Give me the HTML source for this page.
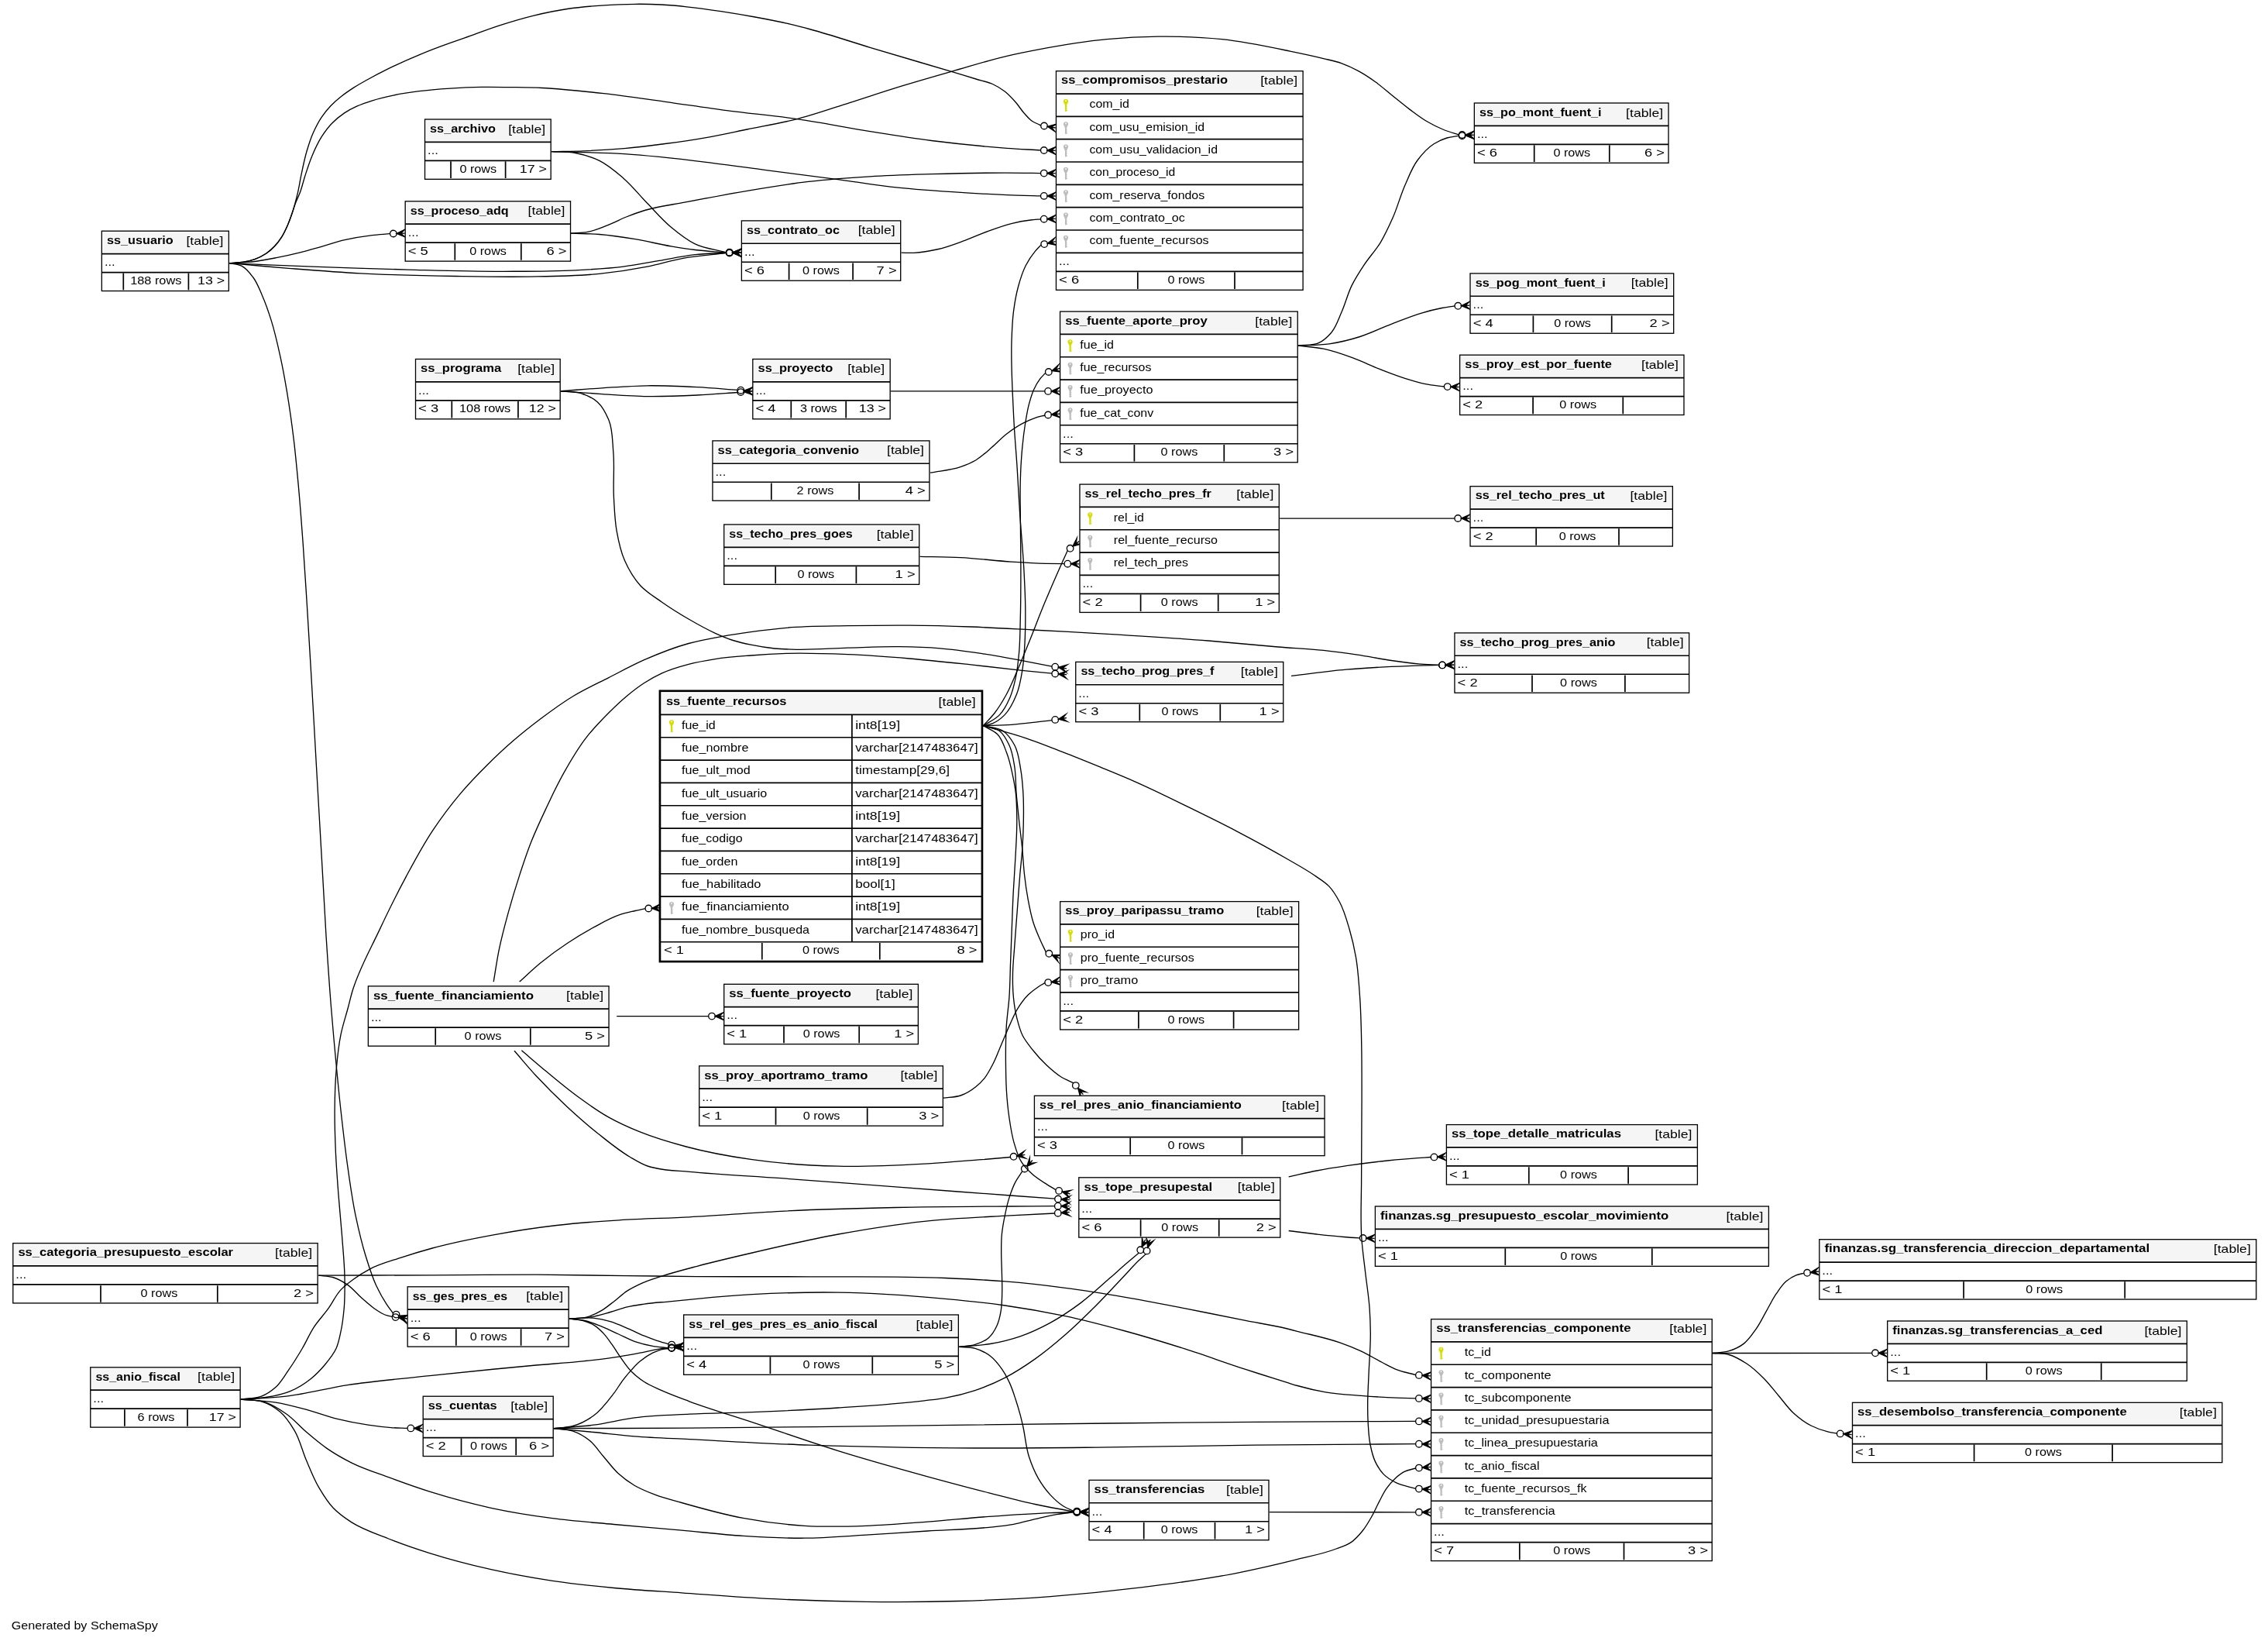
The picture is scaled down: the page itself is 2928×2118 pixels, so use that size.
<!DOCTYPE html>
<html><head><meta charset="utf-8"><title>ss_fuente_recursos</title>
<style>
html,body{margin:0;padding:0;background:#fff}
svg{display:block;will-change:transform}
text{font-family:"Liberation Sans",sans-serif;font-size:15px;fill:#000}
.b{font-weight:bold}
.s{fill:none;stroke:#000;stroke-width:1.7}
.e{fill:none;stroke:#000;stroke-width:1.33}
.m{fill:#000;stroke:#000;stroke-width:1.33;stroke-linejoin:miter;stroke-miterlimit:10}
.o{fill:none;stroke:#000;stroke-width:1.33}
</style></head><body>
<svg xmlns="http://www.w3.org/2000/svg" width="2928" height="2118" viewBox="0 0 2928 2118">
<rect width="2928" height="2118" fill="#fff"/>
<path d="M1352.2 163.2L1361.9 169.7L1357.4 164.1L1362.7 165.0L1357.4 164.1L1363.5 160.3Z" class="m"/><circle cx="1348.0" cy="162.5" r="4.27" class="o"/>
<path d="M296.5 339.7C302.4 339.2 308.4 339.2 314.3 338.2C319.2 337.4 324.2 336.3 328.9 334.6C334.0 332.8 339.0 330.3 343.5 327.3C347.5 324.6 351.2 321.3 354.5 317.8C358.1 314.0 361.2 309.7 364.0 305.3C366.9 300.7 369.1 295.7 371.3 290.7C373.5 285.7 375.4 280.5 377.1 275.3C378.5 271.2 379.6 267.1 380.8 262.9C382.1 258.1 383.4 253.2 384.5 248.3C386.1 241.5 387.1 234.5 388.5 227.7C390.8 216.5 393.0 205.2 396.3 194.2C398.6 186.5 401.0 178.7 404.3 171.4C407.4 164.5 410.9 157.6 415.1 151.3C418.6 146.1 422.7 141.1 427.1 136.5C431.2 132.2 435.8 128.2 440.5 124.5C445.6 120.4 451.1 116.7 456.6 113.1C462.2 109.5 468.1 106.3 474.0 103.0C482.8 98.1 491.8 93.4 500.9 88.9C514.1 82.4 527.5 76.4 541.1 70.8C554.3 65.3 567.8 60.2 581.3 55.4C587.5 53.2 593.8 51.1 600.0 48.9C614.7 43.7 629.3 37.9 644.1 33.1C658.7 28.4 673.3 23.9 688.2 20.3C702.7 16.8 717.5 13.7 732.3 11.5C746.9 9.3 761.7 8.1 776.4 7.1C791.1 6.1 805.8 5.4 820.5 5.3C831.5 5.2 842.5 5.4 853.5 6.0C864.6 6.6 875.6 7.6 886.6 8.8C901.3 10.3 916.0 12.4 930.7 14.6C945.4 16.8 960.1 19.3 974.8 22.0C989.5 24.7 1004.3 27.5 1018.9 30.9C1028.2 33.1 1037.4 35.5 1046.6 38.0C1072.4 44.9 1097.7 53.6 1123.3 61.3C1144.3 67.6 1165.3 73.8 1186.3 80.0C1200.3 84.1 1214.3 88.2 1228.3 92.4C1238.9 95.6 1249.4 98.8 1260.0 102.0C1267.1 104.2 1274.7 105.4 1281.4 108.5C1286.9 111.0 1292.4 114.3 1297.2 118.0C1302.5 122.1 1307.1 127.2 1311.5 132.3C1315.4 136.8 1318.5 142.1 1322.5 146.5C1325.5 149.8 1328.4 153.5 1332.0 156.0C1334.9 158.0 1338.3 159.3 1341.5 160.8C1342.2 161.2 1343.0 161.5 1343.8 161.8" class="e"/>
<path d="M1352.0 194.1L1362.6 199.2L1357.4 194.3L1362.7 194.4L1357.4 194.3L1362.8 189.6Z" class="m"/><circle cx="1347.8" cy="194.0" r="4.27" class="o"/>
<path d="M296.5 339.7C302.4 339.2 308.4 339.2 314.3 338.2C319.2 337.4 324.2 336.3 328.9 334.6C334.0 332.8 339.0 330.3 343.5 327.3C347.5 324.6 351.2 321.3 354.5 317.8C358.1 314.0 361.2 309.7 364.0 305.3C366.9 300.7 369.1 295.7 371.3 290.7C373.5 285.7 375.3 280.5 377.1 275.3C378.5 271.2 379.7 267.0 381.2 262.9C383.0 257.9 385.6 253.2 387.4 248.3C389.9 241.6 391.4 234.5 393.6 227.7C396.5 218.7 399.3 209.6 403.0 200.9C406.5 192.6 410.3 184.3 415.1 176.7C419.0 170.6 423.4 164.5 428.5 159.3C433.3 154.3 438.8 149.8 444.6 145.9C449.6 142.5 455.1 139.7 460.6 137.2C467.1 134.2 474.0 131.9 480.8 129.8C489.6 127.0 498.6 125.0 507.6 123.1C518.7 120.8 529.9 119.1 541.1 117.7C554.4 116.0 567.9 115.0 581.3 114.1C594.7 113.2 608.1 112.6 621.5 112.4C634.3 112.2 647.2 112.4 660.0 112.6C673.3 112.8 686.7 112.9 700.0 113.5C726.5 114.7 753.0 117.7 779.4 120.7C805.9 123.7 832.3 127.7 858.7 131.3C885.2 135.0 911.6 139.1 938.1 142.6C968.9 146.7 999.9 149.3 1030.7 153.8C1061.7 158.3 1092.4 164.7 1123.3 169.6C1149.7 173.8 1176.1 178.1 1202.6 181.5C1235.0 185.6 1267.5 188.9 1300.0 191.3C1314.5 192.4 1329.0 193.0 1343.5 193.9" class="e"/>
<path d="M512.0 301.4L522.8 305.9L517.4 301.2L522.7 301.1L517.4 301.2L522.6 296.3Z" class="m"/><circle cx="507.8" cy="301.5" r="4.27" class="o"/>
<path d="M296.5 339.7C307.3 339.0 318.2 338.8 328.9 337.5C338.7 336.3 348.4 334.3 358.1 332.4C367.9 330.4 377.7 328.2 387.4 325.8C397.2 323.4 406.9 320.5 416.6 317.8C426.1 315.1 435.4 311.9 445.0 309.7C456.7 307.0 468.7 305.0 480.6 303.6C488.2 302.7 495.9 302.3 503.5 301.6" class="e"/>
<path d="M945.9 326.1L956.5 331.0L951.3 326.1L956.6 326.2L951.3 326.1L956.7 321.4Z" class="m"/><circle cx="941.7" cy="326.0" r="4.27" class="o"/>
<path d="M296.5 339.7C332.2 341.2 367.8 342.8 403.5 344.1C444.6 345.6 485.8 347.1 526.9 348.1C568.1 349.1 609.2 350.4 650.4 350.3C681.3 350.2 712.2 350.4 743.0 348.8C763.6 347.7 784.3 346.7 804.7 344.1C820.2 342.1 835.6 339.0 851.0 336.4C866.4 333.8 881.8 330.5 897.3 328.7C910.6 327.2 924.0 326.9 937.4 326.0" class="e"/>
<path d="M945.9 326.5L956.7 331.0L951.3 326.3L956.6 326.2L951.3 326.3L956.5 321.4Z" class="m"/><circle cx="941.7" cy="326.6" r="4.27" class="o"/>
<path d="M296.5 339.7C321.9 341.9 347.2 344.3 372.6 346.3C403.4 348.7 434.3 351.2 465.2 352.8C506.3 355.0 547.5 355.8 588.6 356.5C619.5 357.0 650.3 357.6 681.2 357.1C712.1 356.6 743.1 356.6 773.8 353.4C794.5 351.2 815.2 348.1 835.6 344.1C851.1 341.0 866.3 336.1 881.9 333.3C900.2 330.0 918.9 328.9 937.4 326.7" class="e"/>
<path d="M515.5 1698.2L523.6 1706.6L520.4 1700.1L525.4 1702.1L520.4 1700.1L527.2 1697.6Z" class="m"/><circle cx="511.5" cy="1696.6" r="4.27" class="o"/>
<path d="M296.5 339.7C301.7 340.9 307.6 341.0 312.2 343.4C318.1 346.4 322.7 352.6 326.8 358.0C332.0 364.9 335.0 373.4 338.5 381.4C343.1 391.8 346.8 402.7 350.2 413.6C355.0 428.9 358.5 444.7 361.9 460.4C365.3 475.9 368.1 491.5 370.7 507.2C374.1 527.6 376.9 548.1 379.4 568.6C381.7 588.1 383.5 607.6 385.3 627.1C387.5 651.4 389.3 675.8 391.1 700.2C393.0 726.8 394.6 753.4 396.3 780.0C398.3 811.7 400.1 843.4 402.0 875.1C404.2 912.1 406.2 949.0 408.3 986.0C410.4 1023.0 412.6 1059.9 414.7 1096.9C416.8 1133.9 418.6 1170.9 421.0 1207.8C423.0 1238.5 425.0 1269.3 427.5 1300.0C429.3 1322.3 431.3 1344.7 433.4 1367.0C435.5 1389.3 437.6 1411.7 440.1 1434.0C442.6 1456.4 445.1 1478.8 448.2 1501.1C451.3 1523.5 454.3 1546.0 458.9 1568.1C462.7 1586.1 466.8 1604.1 472.3 1621.7C476.2 1634.4 480.1 1647.2 485.7 1659.2C489.6 1667.5 494.0 1675.7 499.1 1683.4C501.7 1687.4 504.7 1691.2 507.5 1695.1" class="e"/>
<path d="M1891.8 174.1L1902.4 179.1L1897.2 174.2L1902.5 174.3L1897.2 174.2L1902.6 169.5Z" class="m"/><circle cx="1887.6" cy="174.0" r="4.27" class="o"/>
<path d="M712.2 195.6C725.8 195.3 739.3 195.3 752.9 194.8C770.5 194.1 788.2 193.1 805.8 191.6C823.5 190.0 841.1 187.8 858.7 185.5C876.4 183.2 894.0 180.7 911.6 177.6C929.3 174.5 946.9 170.6 964.6 167.0C986.7 162.5 1008.9 158.8 1030.7 153.2C1053.0 147.4 1074.8 139.6 1096.8 132.6C1118.9 125.6 1140.8 118.2 1163.0 111.4C1184.9 104.7 1207.0 98.4 1229.1 92.1C1252.7 85.4 1276.1 77.8 1300.0 72.3C1313.6 69.2 1327.2 66.5 1340.9 63.9C1370.1 58.4 1399.5 53.5 1429.1 50.7C1451.0 48.6 1473.2 47.4 1495.2 47.2C1522.6 46.9 1550.1 47.8 1577.3 50.7C1606.9 53.8 1636.3 60.1 1665.5 66.1C1680.2 69.1 1695.0 72.2 1709.6 75.8C1717.0 77.6 1724.5 79.1 1731.6 81.6C1739.2 84.3 1746.6 87.8 1753.7 91.7C1761.3 95.8 1768.6 100.7 1775.7 105.8C1783.3 111.3 1790.4 117.6 1797.7 123.5C1805.1 129.4 1812.3 135.5 1819.8 141.1C1827.0 146.4 1834.1 152.0 1841.8 156.5C1848.9 160.7 1856.3 164.4 1863.9 167.5C1870.2 170.0 1876.8 171.8 1883.3 173.9" class="e"/>
<path d="M1352.0 252.9L1362.7 257.8L1357.4 253.0L1362.7 253.0L1357.4 253.0L1362.7 248.2Z" class="m"/><circle cx="1347.8" cy="252.9" r="4.27" class="o"/>
<path d="M712.2 195.6C743.4 196.6 774.7 196.7 805.8 198.7C841.2 201.0 876.4 205.1 911.6 209.3C938.1 212.5 964.5 216.4 991.0 219.9C1021.9 223.9 1052.8 227.6 1083.6 231.8C1105.6 234.8 1127.6 238.6 1149.7 241.1C1176.1 244.1 1202.6 245.9 1229.1 247.7C1252.7 249.3 1276.4 250.7 1300.0 251.6C1314.5 252.2 1329.0 252.5 1343.5 252.9" class="e"/>
<path d="M945.9 325.9L956.5 331.0L951.3 326.1L956.6 326.2L951.3 326.1L956.7 321.4Z" class="m"/><circle cx="941.7" cy="325.8" r="4.27" class="o"/>
<path d="M712.2 195.6C722.5 196.2 733.0 195.6 743.0 197.5C753.5 199.5 764.2 202.7 773.8 207.4C785.1 212.9 795.1 221.6 804.7 229.9C816.0 239.6 825.2 251.6 835.6 262.3C845.8 272.7 855.2 284.0 866.4 293.2C876.0 301.2 886.1 309.5 897.3 314.8C909.6 320.7 924.0 322.1 937.4 325.7" class="e"/>
<path d="M1352.0 223.6L1362.7 228.5L1357.4 223.7L1362.7 223.7L1357.4 223.7L1362.7 218.9Z" class="m"/><circle cx="1347.8" cy="223.6" r="4.27" class="o"/>
<path d="M737.0 301.1C744.1 300.5 751.4 300.7 758.4 299.4C769.0 297.5 779.2 292.7 789.3 288.6C795.8 285.9 802.0 282.6 808.5 280.0C816.3 276.8 824.3 274.0 832.3 271.5C849.5 266.3 867.5 264.3 885.2 260.9C911.6 255.8 938.1 250.7 964.6 246.3C991.0 241.9 1017.4 237.5 1043.9 234.4C1070.3 231.3 1096.8 229.4 1123.3 227.8C1149.7 226.2 1176.2 225.5 1202.6 224.7C1235.1 223.8 1267.5 223.0 1300.0 223.1C1314.5 223.1 1329.0 223.4 1343.5 223.6" class="e"/>
<path d="M945.9 326.1L956.5 331.0L951.3 326.1L956.6 326.2L951.3 326.1L956.7 321.4Z" class="m"/><circle cx="941.7" cy="326.0" r="4.27" class="o"/>
<path d="M737.0 301.1C749.3 301.6 761.6 301.5 773.8 302.5C789.3 303.7 804.8 306.1 820.1 308.6C835.6 311.2 850.9 315.3 866.4 317.9C876.7 319.6 887.0 321.2 897.3 322.5C910.6 324.1 924.0 324.8 937.4 326.0" class="e"/>
<path d="M1352.0 282.6L1362.8 287.2L1357.4 282.5L1362.7 282.4L1357.4 282.5L1362.6 277.6Z" class="m"/><circle cx="1347.8" cy="282.7" r="4.27" class="o"/>
<path d="M1163.5 326.2C1169.0 326.2 1174.5 326.6 1180.0 326.3C1190.6 325.8 1201.3 323.9 1211.7 321.5C1222.4 319.0 1232.9 315.0 1243.3 311.2C1254.0 307.3 1264.3 302.5 1275.0 298.6C1285.4 294.8 1295.9 290.9 1306.7 288.3C1314.5 286.4 1322.5 285.0 1330.5 284.0C1334.8 283.5 1339.2 283.2 1343.5 282.8" class="e"/>
<path d="M1891.8 174.9L1902.8 179.1L1897.2 174.6L1902.5 174.3L1897.2 174.6L1902.2 169.5Z" class="m"/><circle cx="1887.6" cy="175.2" r="4.27" class="o"/>
<path d="M1675.8 446.2C1684.8 444.9 1695.0 446.3 1702.9 442.4C1708.9 439.5 1714.4 434.3 1718.8 429.2C1725.1 421.9 1728.0 411.8 1732.0 402.8C1737.0 391.6 1739.8 379.4 1745.2 368.4C1749.8 359.2 1755.4 350.5 1761.1 341.9C1767.7 331.9 1776.1 323.0 1782.3 312.8C1788.4 302.7 1793.3 291.9 1798.1 281.1C1804.2 267.3 1807.9 252.5 1814.0 238.7C1818.8 227.9 1822.9 216.4 1829.9 207.0C1835.8 199.1 1842.8 191.1 1851.1 185.8C1856.3 182.5 1862.1 179.7 1868.0 178.0C1872.9 176.5 1878.2 176.3 1883.3 175.4" class="e"/>
<path d="M1886.5 394.6L1897.4 399.0L1891.9 394.4L1897.2 394.2L1891.9 394.4L1897.0 389.4Z" class="m"/><circle cx="1882.3" cy="394.8" r="4.27" class="o"/>
<path d="M1675.8 446.2C1689.2 445.4 1702.8 445.7 1716.1 443.8C1729.5 441.9 1742.9 438.6 1755.8 434.5C1769.4 430.2 1782.2 423.7 1795.5 418.6C1808.7 413.6 1821.7 408.1 1835.2 404.1C1843.9 401.5 1852.7 399.2 1861.6 397.5C1867.0 396.5 1872.5 395.8 1878.0 394.9" class="e"/>
<path d="M1872.9 499.2L1883.5 504.3L1878.3 499.4L1883.6 499.5L1878.3 499.4L1883.7 494.7Z" class="m"/><circle cx="1868.7" cy="499.1" r="4.27" class="o"/>
<path d="M1675.8 446.2C1686.7 447.5 1697.8 448.0 1708.5 450.2C1721.4 452.8 1734.1 457.4 1746.5 461.9C1758.4 466.2 1769.9 472.0 1781.7 476.6C1792.3 480.7 1802.9 484.9 1813.8 488.3C1822.5 491.0 1831.3 493.8 1840.2 495.6C1848.2 497.2 1856.3 497.9 1864.4 499.0" class="e"/>
<path d="M1886.4 669.0L1897.1 673.8L1891.8 669.0L1897.1 669.0L1891.8 669.0L1897.1 664.2Z" class="m"/><circle cx="1882.2" cy="669.0" r="4.27" class="o"/>
<path d="M1652.1 669.1L1877.9 669.1" class="e"/>
<path d="M1866.2 858.3L1877.0 863.0L1871.6 858.3L1876.9 858.2L1871.6 858.3L1876.8 853.4Z" class="m"/><circle cx="1862.0" cy="858.4" r="4.27" class="o"/>
<path d="M1667.0 872.4C1690.6 869.7 1714.1 866.3 1737.8 864.2C1757.3 862.5 1776.8 861.4 1796.3 860.4C1810.9 859.7 1825.4 859.2 1840.0 858.8C1845.9 858.7 1851.8 858.6 1857.7 858.4" class="e"/>
<path d="M960.6 504.0L970.8 509.6L965.9 504.4L971.2 504.8L965.9 504.4L971.6 500.0Z" class="m"/><circle cx="956.3" cy="503.7" r="4.27" class="o"/>
<path d="M723.8 504.8C741.6 503.5 759.4 501.9 777.2 500.8C796.7 499.6 816.2 498.0 835.7 497.8C857.1 497.5 878.6 498.6 900.0 499.7C917.4 500.6 934.7 502.1 952.0 503.3" class="e"/>
<path d="M960.6 505.8L971.6 509.6L965.9 505.3L971.2 504.8L965.9 505.3L970.8 500.0Z" class="m"/><circle cx="956.3" cy="506.1" r="4.27" class="o"/>
<path d="M723.8 504.8C741.6 506.1 759.4 507.5 777.2 508.6C796.7 509.8 816.2 511.3 835.7 511.6C857.1 511.9 878.6 511.0 900.0 510.0C917.4 509.2 934.7 507.7 952.1 506.5" class="e"/>
<path d="M1366.4 861.3L1376.3 867.6L1371.7 862.1L1377.0 862.8L1371.7 862.1L1377.7 858.0Z" class="m"/><circle cx="1362.2" cy="860.7" r="4.27" class="o"/>
<path d="M723.8 504.8C731.9 505.6 740.3 505.0 748.0 507.2C756.3 509.5 765.1 513.3 771.4 518.9C778.0 524.8 782.6 534.0 786.0 542.3C791.1 554.8 790.6 569.5 791.8 583.2C793.5 602.6 791.4 622.2 792.4 641.7C793.2 656.4 793.6 671.2 796.2 685.6C798.5 698.5 801.3 711.7 806.5 723.6C811.6 735.1 818.4 746.8 826.9 756.0C834.7 764.4 845.1 770.5 854.6 777.2C865.7 785.0 877.3 792.2 889.0 799.0C900.2 805.5 911.6 812.0 923.4 817.3C930.9 820.7 938.5 824.0 946.3 826.5C953.8 828.9 961.6 830.6 969.3 832.2C979.4 834.3 989.7 836.0 1000.0 837.0C1009.4 837.9 1018.9 838.1 1028.4 838.3C1050.5 838.8 1072.5 836.8 1094.6 836.2C1116.6 835.6 1138.7 834.4 1160.7 834.7C1178.3 834.9 1196.0 835.4 1213.6 836.8C1231.3 838.2 1248.9 840.8 1266.5 843.4C1284.2 846.0 1301.8 849.3 1319.4 852.6C1332.3 855.0 1345.1 857.6 1358.0 860.1" class="e"/>
<path d="M1357.3 504.9L1368.0 509.6L1362.7 504.8L1368.0 504.8L1362.7 504.8L1368.0 500.0Z" class="m"/><circle cx="1353.1" cy="504.9" r="4.27" class="o"/>
<path d="M1149.8 504.8L1348.8 504.9" class="e"/>
<path d="M1357.4 535.1L1368.5 538.9L1362.7 534.6L1368.0 534.1L1362.7 534.6L1367.5 529.3Z" class="m"/><circle cx="1353.1" cy="535.5" r="4.27" class="o"/>
<path d="M1200.9 610.2C1213.9 607.7 1227.6 607.1 1240.0 602.7C1246.9 600.3 1253.8 597.4 1260.1 593.7C1267.4 589.3 1273.7 583.2 1280.2 577.6C1287.1 571.8 1293.1 564.9 1300.3 559.5C1306.6 554.7 1313.3 550.1 1320.4 546.4C1325.6 543.7 1331.0 541.3 1336.5 539.4C1340.5 538.0 1344.8 537.1 1348.9 536.0" class="e"/>
<path d="M1382.5 727.7L1393.2 732.6L1387.9 727.8L1393.2 727.8L1387.9 727.8L1393.2 723.0Z" class="m"/><circle cx="1378.3" cy="727.7" r="4.27" class="o"/>
<path d="M1187.6 718.3C1205.1 718.7 1222.6 718.7 1240.0 719.6C1262.0 720.7 1283.8 723.7 1305.8 725.1C1320.5 726.0 1335.3 726.9 1350.0 727.3C1358.0 727.5 1366.0 727.6 1374.0 727.7" class="e"/>
<path d="M1352.3 314.1L1363.8 316.4L1357.5 312.9L1362.7 311.7L1357.5 312.9L1361.6 307.0Z" class="m"/><circle cx="1348.2" cy="315.1" r="4.27" class="o"/>
<path d="M1269.3 936.7C1273.4 935.7 1277.8 935.2 1281.7 933.6C1287.4 931.2 1292.7 927.0 1297.1 922.6C1304.1 915.6 1308.6 905.6 1312.4 896.3C1316.6 886.0 1318.3 874.5 1320.1 863.4C1321.8 852.6 1322.4 841.5 1323.0 830.5C1323.8 815.9 1323.9 801.2 1323.8 786.6C1323.7 768.3 1322.7 750.0 1321.7 731.7C1320.5 709.7 1318.3 687.8 1316.8 665.8C1315.3 643.9 1314.4 621.9 1312.9 600.0C1311.8 583.8 1310.4 567.7 1309.4 551.5C1308.6 538.1 1308.0 524.6 1307.4 511.2C1306.8 497.8 1306.2 484.4 1306.0 471.0C1305.8 460.9 1305.7 450.9 1306.0 440.8C1306.4 428.1 1306.8 415.2 1308.4 402.6C1309.8 391.8 1311.5 381.0 1314.4 370.5C1317.0 360.9 1319.9 351.1 1324.5 342.3C1327.8 335.9 1331.9 329.8 1336.5 324.2C1338.8 321.4 1341.5 318.8 1344.0 316.1" class="e"/>
<path d="M1357.9 478.7L1369.5 480.0L1362.9 477.1L1368.0 475.4L1362.9 477.1L1366.5 470.8Z" class="m"/><circle cx="1353.8" cy="480.0" r="4.27" class="o"/>
<path d="M1269.3 936.7C1276.4 932.0 1284.8 928.6 1290.5 922.6C1296.3 916.6 1300.3 908.4 1303.7 900.7C1307.4 892.4 1309.4 883.3 1311.3 874.4C1313.7 863.6 1314.7 852.4 1315.7 841.4C1317.0 826.8 1316.9 812.1 1317.3 797.5C1317.9 775.6 1317.9 753.6 1317.9 731.7C1317.9 709.7 1317.4 687.8 1317.3 665.8C1317.2 650.5 1316.9 635.3 1317.3 620.0C1317.5 613.9 1317.7 607.8 1318.0 601.7C1318.5 593.0 1319.1 584.3 1320.0 575.6C1320.9 566.2 1322.0 556.8 1323.5 547.5C1324.9 538.7 1326.2 529.9 1328.5 521.3C1330.2 515.2 1331.9 509.0 1334.5 503.2C1336.7 498.3 1339.3 493.4 1342.6 489.1C1344.7 486.3 1347.4 483.9 1349.7 481.4" class="e"/>
<path d="M1384.9 705.1L1396.2 702.1L1389.1 701.8L1393.2 698.4L1389.1 701.8L1390.2 694.7Z" class="m"/><circle cx="1381.6" cy="707.8" r="4.27" class="o"/>
<path d="M1269.3 936.7C1274.2 931.3 1279.4 926.2 1283.9 920.5C1289.8 913.0 1294.7 904.7 1299.3 896.3C1304.3 887.2 1308.2 877.4 1312.4 867.8C1317.8 855.5 1322.7 843.0 1327.8 830.5C1335.2 812.3 1342.1 793.8 1349.7 775.6C1356.8 758.7 1364.2 741.9 1371.7 725.1C1373.9 720.2 1376.1 715.4 1378.3 710.5" class="e"/>
<path d="M1366.4 928.2L1377.7 931.2L1371.6 927.4L1376.9 926.5L1371.6 927.4L1376.1 921.8Z" class="m"/><circle cx="1362.2" cy="928.9" r="4.27" class="o"/>
<path d="M1269.3 936.7C1281.5 936.3 1293.7 936.3 1305.8 935.4C1316.8 934.6 1327.8 933.2 1338.8 931.9C1345.2 931.2 1351.6 930.4 1357.9 929.6" class="e"/>
<path d="M1371.2 1538.1L1380.2 1545.6L1376.4 1539.5L1381.5 1541.0L1376.4 1539.5L1382.8 1536.4Z" class="m"/><circle cx="1367.1" cy="1536.9" r="4.27" class="o"/>
<path d="M1269.3 936.7C1275.5 940.4 1283.0 942.9 1287.8 947.8C1293.6 953.7 1296.3 963.0 1299.4 971.0C1303.2 980.6 1305.4 990.9 1307.5 1001.1C1309.1 1008.7 1310.5 1016.5 1311.4 1024.2C1312.7 1035.7 1312.7 1047.4 1312.8 1059.0C1312.9 1074.4 1311.8 1089.9 1311.0 1105.3C1310.2 1120.7 1309.0 1136.2 1308.2 1151.6C1307.4 1167.1 1306.9 1182.5 1306.3 1198.0C1305.7 1213.4 1305.1 1228.9 1304.5 1244.3C1304.0 1258.7 1303.9 1273.1 1302.9 1287.4C1302.0 1299.6 1300.1 1311.8 1299.3 1324.0C1298.3 1339.2 1298.3 1354.4 1298.4 1369.6C1298.5 1381.8 1298.6 1394.0 1299.3 1406.2C1300.0 1418.4 1301.1 1430.6 1302.9 1442.7C1304.5 1453.7 1306.1 1464.9 1309.3 1475.6C1311.7 1483.7 1314.0 1492.3 1318.5 1499.4C1322.3 1505.5 1327.7 1511.0 1333.1 1515.8C1338.6 1520.7 1345.1 1524.6 1351.4 1528.6C1355.2 1531.1 1359.2 1533.3 1363.0 1535.7" class="e"/>
<path d="M1358.2 1232.6L1366.1 1241.3L1363.1 1234.7L1368.0 1236.9L1363.1 1234.7L1369.9 1232.5Z" class="m"/><circle cx="1354.3" cy="1230.8" r="4.27" class="o"/>
<path d="M1269.3 936.7C1276.2 938.9 1284.5 939.2 1290.1 943.2C1295.8 947.4 1299.7 955.0 1302.9 961.7C1307.0 970.2 1308.3 980.1 1309.8 989.5C1311.7 1000.9 1311.1 1012.6 1312.1 1024.2C1313.1 1035.8 1314.4 1047.4 1315.6 1059.0C1316.9 1071.3 1318.6 1083.6 1319.8 1096.0C1320.9 1106.8 1321.3 1117.7 1322.5 1128.5C1323.7 1139.3 1325.2 1150.2 1327.2 1160.9C1329.1 1171.0 1331.0 1181.2 1334.1 1191.0C1336.6 1198.9 1340.0 1206.6 1343.4 1214.2C1345.6 1219.2 1348.1 1224.1 1350.4 1229.1" class="e"/>
<path d="M1391.6 1404.4L1394.7 1415.7L1395.0 1408.5L1398.4 1412.6L1395.0 1408.5L1402.1 1409.5Z" class="m"/><circle cx="1388.8" cy="1401.1" r="4.27" class="o"/>
<path d="M1269.3 936.7C1277.8 938.9 1287.8 938.6 1294.7 943.2C1301.0 947.4 1306.1 954.9 1309.8 961.7C1315.0 971.2 1316.0 983.2 1317.9 994.1C1319.6 1004.0 1320.3 1014.1 1320.9 1024.2C1321.5 1034.2 1321.5 1044.3 1321.4 1054.4C1321.3 1068.3 1320.7 1082.2 1319.8 1096.0C1319.1 1106.9 1317.7 1117.7 1316.8 1128.5C1315.5 1143.9 1314.5 1159.4 1313.3 1174.8C1312.1 1190.2 1310.9 1205.7 1309.8 1221.1C1309.0 1232.7 1307.7 1244.3 1307.5 1255.9C1307.3 1266.4 1307.3 1277.0 1308.4 1287.4C1309.3 1296.6 1310.7 1305.9 1313.0 1314.8C1314.9 1322.3 1316.8 1330.0 1320.3 1336.8C1323.6 1343.3 1328.5 1349.2 1333.1 1355.0C1338.7 1362.1 1344.8 1368.9 1351.4 1375.1C1357.1 1380.4 1363.0 1385.7 1369.6 1389.8C1374.8 1393.0 1380.6 1395.2 1386.1 1397.9" class="e"/>
<path d="M1836.2 1921.9L1846.5 1927.4L1841.5 1922.2L1846.8 1922.6L1841.5 1922.2L1847.1 1917.8Z" class="m"/><circle cx="1831.9" cy="1921.6" r="4.27" class="o"/>
<path d="M1269.3 936.7C1287.3 941.9 1305.5 946.5 1323.2 952.4C1339.7 957.9 1355.8 964.4 1372.0 970.7C1388.3 977.0 1404.5 983.6 1420.7 990.2C1435.8 996.4 1450.9 1002.5 1465.8 1009.1C1488.0 1018.9 1509.8 1029.7 1531.7 1040.4C1553.7 1051.1 1575.8 1061.9 1597.5 1073.3C1619.7 1084.9 1641.7 1096.9 1663.3 1109.5C1674.4 1116.0 1685.7 1122.1 1696.2 1129.3C1703.0 1134.0 1710.4 1138.2 1716.0 1144.1C1721.3 1149.8 1725.5 1156.9 1729.2 1163.8C1735.3 1175.0 1738.7 1187.7 1742.3 1200.0C1745.8 1211.9 1748.5 1224.0 1750.6 1236.2C1753.4 1252.5 1754.3 1269.1 1755.5 1285.6C1757.1 1307.5 1757.4 1329.5 1757.8 1351.4C1758.2 1373.4 1758.1 1395.3 1758.1 1417.3C1758.1 1452.3 1757.6 1487.3 1757.6 1522.3C1757.6 1547.9 1756.1 1573.5 1757.9 1599.0C1759.0 1614.4 1761.3 1629.7 1763.0 1645.0C1764.7 1659.5 1767.1 1673.9 1768.1 1688.5C1768.8 1699.0 1769.2 1709.5 1769.3 1720.0C1769.5 1737.7 1767.8 1755.4 1767.1 1773.1C1766.6 1785.3 1765.8 1797.5 1765.7 1809.7C1765.6 1818.8 1765.7 1828.0 1766.2 1837.1C1766.7 1846.3 1767.2 1855.5 1769.0 1864.5C1770.5 1871.9 1772.2 1879.6 1775.4 1886.4C1778.2 1892.3 1781.7 1898.3 1786.3 1902.9C1790.9 1907.5 1796.9 1911.0 1802.8 1913.9C1810.5 1917.7 1819.4 1918.8 1827.6 1921.3" class="e"/>
<path d="M841.5 1172.3L852.5 1176.5L846.9 1172.0L852.2 1171.7L846.9 1172.0L851.9 1166.9Z" class="m"/><circle cx="837.3" cy="1172.5" r="4.27" class="o"/>
<path d="M670.6 1267.1C679.7 1259.0 688.5 1250.5 697.9 1242.8C709.0 1233.7 720.7 1225.2 732.7 1217.3C743.9 1209.8 755.5 1202.8 767.4 1196.4C778.0 1190.7 788.6 1184.5 800.0 1180.7C806.5 1178.5 813.3 1177.1 820.0 1175.5C824.3 1174.5 828.7 1173.6 833.0 1172.7" class="e"/>
<path d="M923.2 1311.6L933.9 1316.4L928.6 1311.6L933.9 1311.6L928.6 1311.6L933.9 1306.8Z" class="m"/><circle cx="919.0" cy="1311.6" r="4.27" class="o"/>
<path d="M796.2 1311.6L914.7 1311.6" class="e"/>
<path d="M1366.5 869.8L1376.7 875.5L1371.8 870.3L1377.1 870.7L1371.8 870.3L1377.5 865.9Z" class="m"/><circle cx="1362.2" cy="869.5" r="4.27" class="o"/>
<path d="M637.2 1267.1C639.7 1252.8 641.6 1238.4 644.6 1224.2C647.9 1208.6 652.0 1193.2 656.2 1177.9C660.5 1162.4 665.1 1146.9 670.1 1131.6C675.1 1116.1 680.2 1100.5 686.3 1085.3C691.9 1071.2 698.4 1057.4 704.9 1043.6C712.2 1028.0 719.5 1012.3 728.0 997.3C736.5 982.2 745.3 967.0 755.8 953.3C764.9 941.5 775.3 930.6 785.9 920.0C793.3 912.6 800.8 905.4 808.8 898.7C816.1 892.6 823.7 886.6 831.7 881.5C839.0 876.8 846.7 872.5 854.6 868.9C865.6 863.9 877.3 860.5 889.0 857.4C900.3 854.4 911.9 852.4 923.4 850.6C938.6 848.2 954.0 847.2 969.3 846.0C984.6 844.8 999.9 843.9 1015.2 843.4C1041.6 842.6 1068.2 843.6 1094.6 844.7C1121.1 845.8 1147.5 847.8 1173.9 850.0C1200.4 852.2 1226.9 855.1 1253.3 857.9C1275.3 860.2 1297.3 863.0 1319.4 865.3C1332.2 866.6 1345.1 867.9 1358.0 869.2" class="e"/>
<path d="M1370.3 1547.8L1380.5 1553.4L1375.6 1548.2L1380.9 1548.6L1375.6 1548.2L1381.3 1543.8Z" class="m"/><circle cx="1366.0" cy="1547.5" r="4.27" class="o"/>
<path d="M664.0 1356.3C673.4 1367.0 682.4 1378.1 692.1 1388.5C705.0 1402.4 718.5 1415.8 732.4 1428.7C745.4 1440.7 758.7 1452.5 772.6 1463.5C785.6 1473.8 798.5 1484.6 812.8 1493.0C820.3 1497.4 827.8 1502.3 836.0 1505.0C839.9 1506.3 844.0 1507.1 848.0 1508.0C861.7 1511.0 876.0 1511.0 890.0 1512.3C929.3 1516.0 968.7 1517.8 1008.1 1520.7C1057.5 1524.3 1106.9 1528.2 1156.3 1531.9C1205.7 1535.6 1255.0 1539.4 1304.4 1543.0C1323.5 1544.4 1342.6 1545.8 1361.7 1547.2" class="e"/>
<path d="M1312.8 1492.1L1324.1 1495.0L1318.0 1491.2L1323.3 1490.3L1318.0 1491.2L1322.5 1485.6Z" class="m"/><circle cx="1308.6" cy="1492.8" r="4.27" class="o"/>
<path d="M673.4 1355.8C684.1 1364.9 694.7 1374.1 705.5 1383.1C718.7 1394.1 731.9 1405.2 745.8 1415.3C758.8 1424.8 772.0 1434.3 786.0 1442.1C798.9 1449.3 812.5 1455.4 826.2 1460.9C845.5 1468.7 865.7 1474.6 885.9 1480.0C913.8 1487.5 942.5 1492.6 971.1 1496.7C1007.8 1502.0 1045.1 1504.3 1082.2 1505.2C1119.2 1506.1 1156.3 1504.2 1193.3 1502.2C1218.0 1500.8 1242.7 1498.7 1267.4 1496.7C1279.7 1495.7 1292.0 1494.6 1304.4 1493.5" class="e"/>
<path d="M1357.4 1267.6L1368.6 1271.1L1362.7 1266.9L1368.0 1266.3L1362.7 1266.9L1367.4 1261.5Z" class="m"/><circle cx="1353.2" cy="1268.1" r="4.27" class="o"/>
<path d="M1218.0 1417.1C1225.3 1416.1 1233.1 1416.3 1240.0 1414.0C1247.1 1411.6 1254.1 1407.3 1260.0 1402.5C1264.0 1399.3 1267.8 1395.6 1271.0 1391.6C1275.4 1386.1 1278.6 1379.6 1281.9 1373.3C1286.2 1365.1 1289.2 1356.2 1292.9 1347.7C1296.6 1339.2 1300.0 1330.5 1303.9 1322.1C1307.3 1314.7 1310.4 1307.0 1314.8 1300.2C1318.5 1294.4 1322.7 1288.6 1327.6 1283.8C1331.5 1280.0 1335.9 1276.7 1340.4 1273.7C1343.2 1271.9 1346.1 1270.3 1348.9 1268.6" class="e"/>
<path d="M1370.0 1556.7L1380.7 1561.4L1375.4 1556.6L1380.7 1556.6L1375.4 1556.6L1380.7 1551.8Z" class="m"/><circle cx="1365.8" cy="1556.7" r="4.27" class="o"/>
<path d="M310.6 1806.1C319.6 1804.8 329.3 1805.5 337.6 1802.2C344.3 1799.5 350.7 1795.1 356.1 1790.3C362.6 1784.5 366.9 1776.3 372.0 1769.1C378.6 1759.7 384.7 1749.9 390.5 1740.0C395.7 1731.1 399.7 1721.5 405.3 1712.9C410.9 1704.4 418.1 1697.0 424.0 1688.7C429.6 1680.9 433.5 1671.6 440.1 1664.6C444.8 1659.6 450.6 1655.3 456.2 1651.2C463.0 1646.2 470.2 1641.7 477.7 1637.8C490.3 1631.2 504.4 1627.6 517.9 1623.1C531.2 1618.7 544.6 1614.7 558.1 1611.0C584.5 1603.8 611.5 1598.5 638.5 1593.6C665.1 1588.7 692.0 1584.6 718.9 1581.5C745.6 1578.4 772.5 1576.5 799.4 1574.8C829.6 1572.8 859.8 1572.4 890.0 1570.8C929.4 1568.7 968.7 1565.3 1008.1 1563.3C1057.5 1560.8 1106.9 1559.5 1156.3 1558.5C1205.7 1557.5 1255.0 1557.3 1304.4 1557.0C1323.4 1556.9 1342.5 1556.8 1361.5 1556.7" class="e"/>
<path d="M1866.2 858.3L1877.0 863.0L1871.6 858.3L1876.9 858.2L1871.6 858.3L1876.8 853.4Z" class="m"/><circle cx="1862.0" cy="858.4" r="4.27" class="o"/>
<path d="M310.6 1806.1C321.4 1805.2 332.3 1805.2 342.9 1803.5C353.6 1801.8 364.7 1799.8 374.7 1795.6C384.1 1791.7 393.1 1786.1 401.1 1779.7C407.9 1774.3 414.0 1767.9 419.6 1761.2C425.1 1754.6 430.7 1747.7 434.2 1740.0C437.2 1733.2 438.5 1725.5 440.1 1718.2C442.2 1708.5 443.3 1698.6 444.2 1688.7C445.4 1675.4 445.2 1661.9 445.0 1648.5C444.7 1630.6 442.8 1612.8 441.5 1594.9C440.1 1577.0 438.3 1559.2 436.9 1541.3C435.6 1523.4 434.2 1505.6 433.4 1487.7C432.6 1469.8 432.0 1451.9 432.1 1434.0C432.2 1416.1 432.6 1398.2 434.2 1380.4C435.5 1365.2 437.0 1349.8 440.1 1334.9C442.5 1323.1 446.4 1311.7 449.5 1300.0C451.3 1293.3 452.8 1286.6 454.7 1280.0C462.8 1252.5 477.2 1227.1 489.5 1201.1C500.5 1177.7 511.9 1154.4 524.2 1131.6C535.2 1111.2 546.1 1090.6 559.0 1071.4C569.7 1055.4 581.3 1039.8 593.7 1025.1C604.6 1012.2 616.4 999.9 628.4 988.0C639.6 976.8 651.2 965.9 663.2 955.6C674.4 945.9 686.1 936.7 697.9 927.8C711.6 917.5 725.4 907.3 740.0 898.5C754.7 889.6 770.5 882.4 785.9 874.6C801.1 866.8 816.1 858.6 831.7 851.7C850.3 843.5 869.4 835.9 889.0 830.5C903.3 826.6 918.0 823.9 932.6 821.3C944.8 819.1 957.0 817.3 969.3 815.6C984.6 813.5 999.9 811.6 1015.2 810.3C1041.6 808.1 1068.1 808.2 1094.6 807.7C1121.0 807.2 1147.5 806.9 1173.9 807.1C1200.4 807.3 1226.8 808.0 1253.3 809.0C1279.7 810.0 1306.2 811.6 1332.6 813.0C1365.1 814.7 1397.5 816.4 1430.0 818.3C1473.4 820.9 1516.7 823.5 1560.0 827.0C1590.0 829.4 1620.0 832.6 1650.0 835.0C1669.5 836.6 1689.1 837.3 1708.5 839.4C1723.2 841.0 1737.8 843.0 1752.4 845.2C1767.1 847.4 1781.6 850.4 1796.3 852.5C1808.0 854.2 1819.7 855.9 1831.4 856.9C1840.1 857.7 1848.9 857.9 1857.7 858.4" class="e"/>
<path d="M871.3 1739.2L882.3 1743.1L876.6 1738.7L881.9 1738.3L876.6 1738.7L881.5 1733.5Z" class="m"/><circle cx="867.0" cy="1739.5" r="4.27" class="o"/>
<path d="M310.6 1806.1C330.2 1804.8 349.9 1804.5 369.4 1802.2C396.1 1799.1 422.1 1791.7 448.7 1787.6C483.8 1782.2 519.3 1779.5 554.6 1775.7C598.6 1771.0 642.7 1766.5 686.8 1762.5C709.5 1760.4 732.3 1759.1 754.9 1756.6C769.5 1755.0 784.2 1753.4 798.7 1751.1C809.7 1749.4 820.7 1747.2 831.7 1745.1C839.0 1743.7 846.2 1741.6 853.6 1740.7C856.6 1740.3 859.7 1740.2 862.8 1739.9" class="e"/>
<path d="M534.5 1843.4L545.2 1848.3L539.9 1843.5L545.2 1843.5L539.9 1843.5L545.2 1838.7Z" class="m"/><circle cx="530.3" cy="1843.4" r="4.27" class="o"/>
<path d="M310.6 1806.1C325.8 1807.4 341.1 1807.6 356.1 1810.1C369.5 1812.3 382.7 1815.9 395.8 1819.4C409.1 1823.0 422.1 1828.0 435.5 1831.3C448.6 1834.5 461.9 1837.2 475.2 1839.2C485.1 1840.7 495.0 1841.9 505.0 1842.6C512.0 1843.1 519.0 1843.1 526.0 1843.4" class="e"/>
<path d="M1394.5 1951.8L1405.3 1956.5L1399.9 1951.8L1405.2 1951.7L1399.9 1951.8L1405.1 1946.9Z" class="m"/><circle cx="1390.3" cy="1951.9" r="4.27" class="o"/>
<path d="M310.6 1806.1C321.4 1807.4 332.8 1806.7 342.9 1810.1C352.3 1813.2 361.2 1819.0 369.4 1824.7C379.1 1831.4 386.8 1840.8 395.8 1848.5C404.4 1855.8 413.0 1863.2 422.3 1869.6C432.3 1876.5 443.1 1882.6 454.0 1888.1C469.2 1895.7 485.6 1900.8 501.6 1906.7C519.1 1913.2 536.8 1919.6 554.6 1925.2C580.7 1933.4 607.2 1940.5 633.9 1946.3C660.1 1952.0 686.7 1956.1 713.3 1959.6C739.6 1963.1 766.2 1965.0 792.6 1967.5C821.7 1970.2 850.9 1972.6 880.0 1975.2C906.5 1977.6 932.9 1980.7 959.4 1982.4C985.8 1984.1 1012.3 1985.4 1038.7 1985.2C1065.2 1985.0 1091.6 1982.7 1118.1 1981.2C1144.6 1979.7 1171.0 1977.7 1197.5 1976.0C1223.9 1974.4 1250.5 1974.1 1276.8 1971.3C1287.4 1970.2 1298.1 1969.3 1308.6 1967.3C1317.9 1965.6 1327.0 1962.7 1336.3 1960.6C1345.5 1958.5 1354.8 1956.1 1364.1 1954.6C1371.3 1953.4 1378.7 1952.8 1386.0 1951.9" class="e"/>
<path d="M1836.2 1894.2L1847.2 1898.1L1841.5 1893.8L1846.8 1893.3L1841.5 1893.8L1846.4 1888.5Z" class="m"/><circle cx="1831.9" cy="1894.6" r="4.27" class="o"/>
<path d="M310.6 1806.1C319.6 1807.0 329.1 1806.2 337.6 1808.8C346.1 1811.4 354.6 1816.3 361.4 1822.0C368.9 1828.3 374.7 1837.3 379.9 1845.8C387.2 1857.9 390.1 1872.4 395.8 1885.5C400.8 1897.1 405.3 1909.0 411.7 1919.9C417.1 1929.1 422.8 1938.6 430.2 1946.3C437.1 1953.5 445.6 1959.5 454.0 1964.9C468.5 1974.2 485.5 1979.6 501.6 1986.0C519.0 1992.9 536.8 1999.0 554.6 2004.6C580.7 2012.8 607.2 2019.7 633.9 2025.7C660.1 2031.6 686.7 2036.3 713.3 2040.3C739.6 2044.2 766.1 2047.0 792.6 2049.5C821.7 2052.3 850.9 2053.8 880.0 2055.8C919.7 2058.6 959.3 2061.8 999.0 2063.7C1038.7 2065.6 1078.4 2066.8 1118.1 2067.3C1157.8 2067.8 1197.5 2067.6 1237.1 2066.5C1276.8 2065.4 1316.6 2063.6 1356.2 2060.6C1395.9 2057.6 1435.7 2053.6 1475.2 2048.7C1515.0 2043.7 1554.9 2038.5 1594.3 2030.8C1620.9 2025.6 1647.4 2019.5 1673.7 2012.9C1690.9 2008.6 1708.6 2005.4 1725.1 1999.0C1731.6 1996.5 1738.6 1994.5 1744.3 1990.6C1749.9 1986.8 1754.6 1981.3 1758.9 1976.0C1763.9 1969.9 1767.8 1962.8 1771.7 1955.9C1775.0 1950.0 1777.6 1943.6 1780.8 1937.6C1783.7 1932.1 1786.4 1926.3 1790.0 1921.2C1793.2 1916.6 1796.8 1912.2 1800.9 1908.4C1804.8 1904.9 1809.0 1901.5 1813.7 1899.2C1818.0 1897.1 1823.0 1896.4 1827.7 1895.0" class="e"/>
<path d="M514.8 1700.7L524.8 1706.9L520.1 1701.4L525.4 1702.1L520.1 1701.4L526.0 1697.3Z" class="m"/><circle cx="510.6" cy="1700.1" r="4.27" class="o"/>
<path d="M411.2 1646.2C417.3 1647.0 423.6 1646.8 429.4 1648.5C436.0 1650.4 442.4 1654.0 448.2 1657.9C455.2 1662.6 460.5 1669.7 466.9 1675.3C472.2 1679.9 477.3 1684.7 483.0 1688.7C487.4 1691.8 492.0 1695.1 497.0 1697.0C500.0 1698.1 503.2 1698.7 506.4 1699.5" class="e"/>
<path d="M1836.2 1775.2L1846.5 1780.7L1841.5 1775.5L1846.8 1775.9L1841.5 1775.5L1847.1 1771.1Z" class="m"/><circle cx="1831.9" cy="1774.9" r="4.27" class="o"/>
<path d="M411.2 1646.2C460.2 1646.1 509.1 1646.0 558.1 1645.8C602.8 1645.6 647.4 1645.0 692.1 1645.2C731.3 1645.4 770.5 1646.2 809.7 1646.6C839.8 1646.9 869.9 1647.4 900.0 1647.6C948.4 1648.0 996.8 1647.6 1045.2 1647.8C1103.5 1648.1 1161.8 1647.0 1220.0 1649.5C1245.9 1650.6 1271.8 1651.8 1297.6 1653.9C1323.5 1656.0 1349.4 1658.9 1375.2 1662.3C1401.1 1665.7 1427.0 1669.9 1452.8 1674.3C1478.7 1678.7 1504.6 1683.9 1530.4 1688.9C1556.3 1693.9 1582.1 1699.3 1608.0 1704.4C1625.3 1707.8 1642.8 1710.3 1660.0 1714.5C1664.9 1715.7 1669.9 1717.0 1674.8 1718.3C1693.1 1723.0 1711.9 1726.6 1729.7 1732.9C1739.0 1736.2 1748.2 1739.8 1757.1 1743.9C1766.5 1748.2 1775.3 1753.8 1784.5 1758.5C1790.6 1761.6 1796.5 1765.1 1802.8 1767.6C1810.8 1770.8 1819.4 1772.2 1827.6 1774.6" class="e"/>
<path d="M1370.1 1565.4L1381.1 1569.3L1375.4 1564.9L1380.7 1564.5L1375.4 1564.9L1380.3 1559.7Z" class="m"/><circle cx="1365.8" cy="1565.7" r="4.27" class="o"/>
<path d="M734.9 1702.1C742.3 1701.4 749.9 1701.9 757.0 1700.1C763.9 1698.3 770.6 1694.9 776.8 1691.3C782.7 1687.9 787.9 1683.3 793.3 1679.2C798.9 1674.9 803.9 1669.9 809.7 1666.1C814.9 1662.7 820.6 1659.9 826.2 1657.3C835.0 1653.2 844.4 1650.5 853.6 1647.4C868.8 1642.4 884.5 1638.4 900.0 1634.3C923.6 1628.0 947.3 1622.5 971.1 1617.0C1008.0 1608.4 1044.9 1599.8 1082.2 1593.0C1119.0 1586.3 1156.1 1580.3 1193.3 1576.3C1230.2 1572.3 1267.3 1571.0 1304.4 1568.9C1323.4 1567.8 1342.5 1567.0 1361.6 1566.0" class="e"/>
<path d="M1836.1 1805.0L1846.7 1810.1L1841.5 1805.2L1846.8 1805.3L1841.5 1805.2L1846.9 1800.5Z" class="m"/><circle cx="1831.9" cy="1804.9" r="4.27" class="o"/>
<path d="M734.9 1702.1C743.7 1701.4 752.7 1701.5 761.4 1700.1C770.3 1698.7 779.1 1695.9 787.8 1693.5C795.1 1691.5 802.3 1688.6 809.7 1686.9C816.9 1685.2 824.3 1684.2 831.7 1683.1C842.6 1681.5 853.6 1680.9 864.6 1679.8C876.4 1678.6 888.2 1677.4 900.0 1676.3C923.7 1674.1 947.4 1672.1 971.1 1670.7C1008.1 1668.6 1045.2 1667.6 1082.2 1668.1C1128.2 1668.7 1174.2 1672.0 1220.0 1676.3C1245.9 1678.7 1271.8 1681.3 1297.6 1685.0C1323.6 1688.7 1349.5 1693.2 1375.2 1698.6C1401.3 1704.1 1427.1 1711.0 1452.8 1718.0C1478.8 1725.1 1504.7 1733.0 1530.4 1741.2C1556.4 1749.5 1582.0 1759.0 1608.0 1767.4C1625.3 1773.0 1642.6 1778.5 1660.0 1783.9C1665.0 1785.4 1670.0 1787.1 1675.0 1788.5C1687.0 1791.9 1699.2 1794.8 1711.4 1796.9C1726.5 1799.5 1741.8 1800.2 1757.1 1801.4C1772.3 1802.6 1787.6 1803.6 1802.8 1804.2C1811.1 1804.5 1819.3 1804.6 1827.6 1804.8" class="e"/>
<path d="M871.4 1736.3L881.0 1743.0L876.7 1737.3L881.9 1738.3L876.7 1737.3L882.8 1733.6Z" class="m"/><circle cx="867.2" cy="1735.6" r="4.27" class="o"/>
<path d="M734.9 1702.1C745.2 1701.8 755.6 1700.2 765.8 1701.2C773.2 1702.0 780.7 1703.5 787.8 1705.6C795.3 1707.8 802.5 1711.2 809.7 1714.3C817.1 1717.4 824.2 1721.2 831.7 1724.2C837.1 1726.4 842.6 1728.5 848.1 1730.3C853.0 1731.9 858.0 1733.3 863.0 1734.8" class="e"/>
<path d="M871.3 1739.1L882.2 1743.1L876.6 1738.7L881.9 1738.3L876.6 1738.7L881.6 1733.5Z" class="m"/><circle cx="867.0" cy="1739.4" r="4.27" class="o"/>
<path d="M734.9 1702.1C741.6 1702.9 748.4 1703.0 754.9 1704.5C762.4 1706.2 769.6 1709.3 776.8 1712.2C784.2 1715.2 791.4 1718.7 798.7 1722.0C806.0 1725.3 813.1 1729.3 820.7 1731.9C827.8 1734.3 835.2 1736.1 842.6 1737.4C849.2 1738.6 856.0 1738.9 862.7 1739.7" class="e"/>
<path d="M1394.5 1951.3L1405.0 1956.5L1399.9 1951.5L1405.2 1951.7L1399.9 1951.5L1405.4 1946.9Z" class="m"/><circle cx="1390.3" cy="1951.1" r="4.27" class="o"/>
<path d="M734.9 1702.1C740.8 1702.9 747.0 1702.9 752.7 1704.5C758.0 1706.0 763.4 1708.1 768.0 1711.1C772.1 1713.7 775.6 1717.4 779.0 1720.9C783.1 1725.2 786.5 1730.3 790.0 1735.2C793.8 1740.6 797.1 1746.3 800.9 1751.7C805.4 1758.1 809.7 1764.8 815.2 1770.3C820.1 1775.3 825.8 1779.7 831.7 1783.5C838.5 1787.9 846.2 1791.0 853.6 1794.4C865.5 1799.8 877.8 1804.2 890.0 1808.8C916.7 1818.8 944.1 1826.6 971.1 1835.6C1008.1 1847.9 1044.9 1861.0 1082.2 1872.6C1120.4 1884.5 1158.9 1895.2 1197.5 1905.8C1223.9 1913.0 1250.3 1920.1 1276.8 1926.8C1296.6 1931.8 1316.3 1937.2 1336.3 1941.5C1352.8 1945.1 1369.4 1947.8 1386.0 1951.0" class="e"/>
<path d="M871.3 1739.5L882.5 1743.1L876.6 1738.9L881.9 1738.3L876.6 1738.9L881.3 1733.5Z" class="m"/><circle cx="867.1" cy="1740.0" r="4.27" class="o"/>
<path d="M714.9 1843.6C723.2 1842.6 731.8 1842.8 739.7 1840.5C749.1 1837.8 758.3 1833.0 766.2 1827.3C776.7 1819.8 784.7 1808.6 792.6 1798.2C796.7 1792.8 800.1 1786.7 804.2 1781.3C807.7 1776.8 811.3 1772.3 815.2 1768.1C818.7 1764.3 822.2 1760.4 826.2 1757.1C831.2 1752.9 836.7 1749.1 842.6 1746.2C846.1 1744.5 849.8 1742.8 853.6 1741.8C856.6 1741.1 859.7 1740.9 862.8 1740.5" class="e"/>
<path d="M1481.8 1610.3L1489.3 1601.3L1483.2 1605.1L1484.7 1600.0L1483.2 1605.1L1480.1 1598.7Z" class="m"/><circle cx="1480.6" cy="1614.4" r="4.27" class="o"/>
<path d="M714.9 1843.6C732.0 1842.1 749.2 1841.4 766.2 1839.2C783.9 1836.9 801.4 1832.2 819.1 1829.9C842.6 1826.9 866.3 1826.4 890.0 1825.2C917.0 1823.8 944.1 1823.7 971.1 1822.6C1008.1 1821.1 1045.2 1819.5 1082.2 1817.0C1119.3 1814.5 1156.4 1812.3 1193.3 1807.8C1202.2 1806.7 1211.2 1805.9 1220.0 1804.3C1233.1 1802.0 1246.2 1798.8 1258.8 1794.6C1272.1 1790.2 1285.2 1784.5 1297.6 1778.1C1311.1 1771.1 1324.0 1762.7 1336.4 1753.9C1349.9 1744.4 1362.7 1733.7 1375.2 1722.8C1388.6 1711.1 1401.4 1698.6 1414.0 1686.0C1427.3 1672.8 1439.9 1658.8 1452.8 1645.2C1458.5 1639.1 1464.0 1632.8 1470.0 1627.0C1473.1 1624.1 1476.3 1621.3 1479.4 1618.5" class="e"/>
<path d="M1836.1 1834.5L1846.7 1839.4L1841.5 1834.5L1846.8 1834.6L1841.5 1834.5L1846.9 1829.8Z" class="m"/><circle cx="1831.9" cy="1834.4" r="4.27" class="o"/>
<path d="M714.9 1843.6C773.3 1843.5 831.6 1843.5 890.0 1843.2C1003.5 1842.6 1116.9 1840.5 1230.4 1839.3C1360.3 1837.9 1490.1 1836.1 1620.0 1835.3C1689.2 1834.8 1758.4 1834.7 1827.6 1834.4" class="e"/>
<path d="M1836.1 1863.8L1846.7 1868.7L1841.5 1863.8L1846.8 1863.9L1841.5 1863.8L1846.9 1859.1Z" class="m"/><circle cx="1831.9" cy="1863.7" r="4.27" class="o"/>
<path d="M714.9 1843.6C732.0 1845.2 749.1 1846.8 766.2 1848.5C783.8 1850.2 801.4 1852.4 819.1 1853.8C842.7 1855.7 866.4 1856.4 890.0 1857.6C941.7 1860.3 993.4 1863.4 1045.2 1865.2C1106.9 1867.4 1168.7 1868.4 1230.4 1868.9C1292.1 1869.4 1353.9 1868.7 1415.6 1868.1C1483.7 1867.5 1551.9 1865.9 1620.0 1865.2C1689.2 1864.4 1758.4 1864.2 1827.6 1863.7" class="e"/>
<path d="M1394.5 1951.7L1405.2 1956.5L1399.9 1951.7L1405.2 1951.7L1399.9 1951.7L1405.2 1946.9Z" class="m"/><circle cx="1390.3" cy="1951.7" r="4.27" class="o"/>
<path d="M714.9 1843.6C723.2 1844.8 731.9 1844.5 739.7 1847.1C747.2 1849.7 754.6 1854.0 760.9 1859.0C768.1 1864.7 773.2 1873.1 779.4 1880.2C785.6 1887.3 791.0 1895.1 797.9 1901.4C804.4 1907.3 811.6 1912.7 819.1 1917.2C827.4 1922.1 836.6 1925.7 845.6 1929.2C856.8 1933.5 868.5 1936.2 880.0 1939.5C906.2 1947.0 932.6 1954.4 959.4 1959.4C985.5 1964.3 1012.2 1967.7 1038.7 1969.3C1065.1 1970.9 1091.7 1970.2 1118.1 1969.3C1144.6 1968.4 1171.1 1966.1 1197.5 1964.1C1224.0 1962.1 1250.3 1959.3 1276.8 1957.4C1303.2 1955.5 1329.7 1953.6 1356.2 1952.6C1366.1 1952.2 1376.1 1952.0 1386.0 1951.7" class="e"/>
<path d="M1325.7 1505.4L1336.4 1500.7L1329.3 1501.4L1332.9 1497.5L1329.3 1501.4L1329.4 1494.3Z" class="m"/><circle cx="1322.8" cy="1508.5" r="4.27" class="o"/>
<path d="M1238.1 1738.3C1245.0 1737.3 1252.2 1737.5 1258.8 1735.4C1264.9 1733.5 1271.6 1730.9 1276.3 1726.7C1280.8 1722.7 1284.3 1716.8 1286.9 1711.2C1289.7 1705.2 1291.1 1698.4 1292.2 1691.8C1293.5 1684.2 1293.5 1676.3 1293.7 1668.5C1294.0 1658.8 1293.5 1649.1 1293.3 1639.4C1293.1 1632.9 1292.8 1626.5 1292.7 1620.0C1292.6 1611.2 1292.5 1602.3 1293.3 1593.5C1294.1 1585.2 1295.6 1577.0 1297.3 1568.8C1299.0 1560.5 1300.8 1552.1 1303.5 1544.1C1305.6 1537.8 1307.8 1531.4 1310.9 1525.6C1313.5 1520.7 1316.9 1516.3 1319.9 1511.7" class="e"/>
<path d="M1474.1 1609.4L1483.0 1601.9L1476.4 1604.6L1478.7 1599.8L1476.4 1604.6L1474.4 1597.7Z" class="m"/><circle cx="1472.3" cy="1613.3" r="4.27" class="o"/>
<path d="M1238.1 1738.3C1251.5 1737.0 1265.0 1736.8 1278.2 1734.5C1291.3 1732.3 1304.4 1729.1 1317.0 1724.8C1330.4 1720.2 1343.4 1714.0 1355.8 1707.3C1369.3 1700.0 1382.2 1691.3 1394.6 1682.1C1408.2 1672.0 1420.6 1660.3 1433.4 1649.1C1440.6 1642.8 1447.7 1636.2 1455.0 1630.0C1460.1 1625.7 1465.3 1621.4 1470.4 1617.1" class="e"/>
<path d="M1394.6 1950.9L1404.9 1956.5L1399.9 1951.3L1405.2 1951.7L1399.9 1951.3L1405.5 1946.9Z" class="m"/><circle cx="1390.3" cy="1950.6" r="4.27" class="o"/>
<path d="M1238.1 1738.3C1245.0 1739.0 1252.2 1738.4 1258.8 1740.3C1265.6 1742.2 1272.5 1745.7 1278.2 1750.0C1284.3 1754.6 1289.3 1761.1 1293.7 1767.4C1297.5 1772.8 1300.6 1778.9 1303.4 1784.9C1306.6 1791.7 1308.8 1799.0 1311.2 1806.2C1313.3 1812.6 1315.3 1819.1 1317.0 1825.6C1318.3 1830.4 1319.4 1835.2 1320.5 1840.0C1323.6 1853.2 1324.2 1867.1 1328.4 1880.0C1331.5 1889.5 1335.3 1899.1 1340.3 1907.8C1344.8 1915.5 1350.1 1923.1 1356.2 1929.6C1361.0 1934.7 1366.2 1939.7 1372.1 1943.5C1376.4 1946.3 1381.4 1948.1 1386.0 1950.3" class="e"/>
<path d="M1855.7 1493.2L1866.6 1497.7L1861.1 1493.1L1866.4 1492.9L1861.1 1493.1L1866.2 1488.1Z" class="m"/><circle cx="1851.5" cy="1493.4" r="4.27" class="o"/>
<path d="M1663.7 1518.9C1675.8 1516.3 1687.8 1513.3 1700.0 1511.0C1713.3 1508.4 1726.6 1506.4 1740.0 1504.4C1757.0 1501.9 1774.1 1499.8 1791.2 1498.0C1804.1 1496.7 1817.1 1495.5 1830.0 1494.6C1835.7 1494.2 1841.5 1493.9 1847.2 1493.5" class="e"/>
<path d="M1763.9 1598.1L1774.5 1603.1L1769.3 1598.2L1774.6 1598.3L1769.3 1598.2L1774.7 1593.5Z" class="m"/><circle cx="1759.7" cy="1598.0" r="4.27" class="o"/>
<path d="M1663.7 1588.5C1675.8 1590.0 1687.9 1591.6 1700.0 1593.0C1711.7 1594.3 1723.3 1595.6 1735.0 1596.5C1741.8 1597.1 1748.6 1597.5 1755.4 1597.9" class="e"/>
<path d="M1836.1 1951.8L1846.8 1956.7L1841.5 1951.9L1846.8 1951.9L1841.5 1951.9L1846.8 1947.1Z" class="m"/><circle cx="1831.9" cy="1951.8" r="4.27" class="o"/>
<path d="M1638.8 1951.7L1827.6 1951.8" class="e"/>
<path d="M2337.3 1642.3L2348.5 1645.8L2342.6 1641.6L2347.9 1641.0L2342.6 1641.6L2347.3 1636.2Z" class="m"/><circle cx="2333.1" cy="1642.8" r="4.27" class="o"/>
<path d="M2211.0 1746.5C2218.0 1745.6 2225.4 1745.7 2232.1 1743.7C2238.9 1741.6 2245.8 1738.4 2251.4 1734.1C2257.9 1729.1 2262.6 1721.6 2267.4 1714.8C2272.3 1707.8 2276.0 1699.9 2280.3 1692.4C2284.6 1684.9 2288.2 1677.0 2293.1 1669.9C2297.0 1664.3 2300.7 1658.2 2305.9 1653.8C2309.7 1650.6 2314.1 1647.6 2318.8 1645.8C2322.0 1644.6 2325.5 1644.1 2328.8 1643.3" class="e"/>
<path d="M2425.2 1746.3L2435.9 1751.1L2430.6 1746.3L2435.9 1746.3L2430.6 1746.3L2435.9 1741.5Z" class="m"/><circle cx="2421.0" cy="1746.3" r="4.27" class="o"/>
<path d="M2211.0 1746.5L2416.7 1746.4" class="e"/>
<path d="M2380.0 1850.7L2390.2 1856.4L2385.3 1851.2L2390.6 1851.6L2385.3 1851.2L2391.0 1846.8Z" class="m"/><circle cx="2375.7" cy="1850.4" r="4.27" class="o"/>
<path d="M2211.0 1746.5C2218.0 1747.2 2225.4 1746.7 2232.1 1748.5C2240.1 1750.7 2247.6 1755.3 2254.6 1759.8C2262.8 1765.1 2270.1 1772.1 2277.0 1779.0C2284.0 1786.0 2289.9 1794.0 2296.3 1801.5C2302.7 1809.0 2308.3 1817.4 2315.6 1824.0C2322.3 1830.1 2329.9 1835.9 2338.0 1840.0C2345.0 1843.6 2352.8 1846.3 2360.5 1848.1C2364.1 1848.9 2367.8 1849.4 2371.5 1850.0" class="e"/>
<rect x="131.35" y="298.20" width="164.00" height="77.33" fill="#fff" stroke="none"/>
<rect x="132.80" y="299.65" width="161.10" height="26.32" fill="#f5f5f5" stroke="none"/>
<path d="M131.35 327.53H295.35M131.35 351.53H295.35M159.30 352.73V374.23M243.40 352.73V374.23" class="s"/>
<rect x="131.35" y="298.20" width="164.00" height="77.33" fill="none" stroke="#000" stroke-width="1.33"/>
<text class="b" x="138.0" y="314.9" textLength="85.7" lengthAdjust="spacingAndGlyphs">ss_usuario</text>
<text x="240.4" y="315.7" textLength="48.0" lengthAdjust="spacingAndGlyphs">[table]</text>
<text x="134.9" y="343.3" textLength="13.8" lengthAdjust="spacingAndGlyphs">...</text>
<text x="168.2" y="367.1" textLength="66.2" lengthAdjust="spacingAndGlyphs">188 rows</text>
<text x="255.0" y="367.1" textLength="35.2" lengthAdjust="spacingAndGlyphs">13 &gt;</text>
<rect x="16.78" y="1604.60" width="393.34" height="77.33" fill="#fff" stroke="none"/>
<rect x="18.23" y="1606.06" width="390.44" height="26.32" fill="#f5f5f5" stroke="none"/>
<path d="M16.78 1633.93H410.12M16.78 1657.93H410.12M130.00 1659.13V1680.63M280.80 1659.13V1680.63" class="s"/>
<rect x="16.78" y="1604.60" width="393.34" height="77.33" fill="none" stroke="#000" stroke-width="1.33"/>
<text class="b" x="23.4" y="1621.3" textLength="277.7" lengthAdjust="spacingAndGlyphs">ss_categoria_presupuesto_escolar</text>
<text x="355.1" y="1622.1" textLength="48.0" lengthAdjust="spacingAndGlyphs">[table]</text>
<text x="20.3" y="1649.7" textLength="13.8" lengthAdjust="spacingAndGlyphs">...</text>
<text x="181.5" y="1673.5" textLength="47.8" lengthAdjust="spacingAndGlyphs">0 rows</text>
<text x="379.0" y="1673.5" textLength="26.0" lengthAdjust="spacingAndGlyphs">2 &gt;</text>
<rect x="116.78" y="1764.80" width="193.34" height="77.33" fill="#fff" stroke="none"/>
<rect x="118.23" y="1766.26" width="190.44" height="26.32" fill="#f5f5f5" stroke="none"/>
<path d="M116.78 1794.13H310.12M116.78 1818.13H310.12M160.90 1819.33V1840.83M242.00 1819.33V1840.83" class="s"/>
<rect x="116.78" y="1764.80" width="193.34" height="77.33" fill="none" stroke="#000" stroke-width="1.33"/>
<text class="b" x="123.4" y="1781.5" textLength="109.5" lengthAdjust="spacingAndGlyphs">ss_anio_fiscal</text>
<text x="255.1" y="1782.3" textLength="48.0" lengthAdjust="spacingAndGlyphs">[table]</text>
<text x="120.3" y="1809.9" textLength="13.8" lengthAdjust="spacingAndGlyphs">...</text>
<text x="177.6" y="1833.7" textLength="47.8" lengthAdjust="spacingAndGlyphs">6 rows</text>
<text x="269.8" y="1833.7" textLength="35.2" lengthAdjust="spacingAndGlyphs">17 &gt;</text>
<rect x="548.51" y="154.00" width="162.67" height="77.33" fill="#fff" stroke="none"/>
<rect x="549.97" y="155.45" width="159.77" height="26.33" fill="#f5f5f5" stroke="none"/>
<path d="M548.51 183.33H711.19M548.51 207.33H711.19M582.00 208.53V230.03M652.60 208.53V230.03" class="s"/>
<rect x="548.51" y="154.00" width="162.67" height="77.33" fill="none" stroke="#000" stroke-width="1.33"/>
<text class="b" x="555.1" y="170.7" textLength="84.8" lengthAdjust="spacingAndGlyphs">ss_archivo</text>
<text x="656.2" y="171.5" textLength="48.0" lengthAdjust="spacingAndGlyphs">[table]</text>
<text x="552.1" y="199.1" textLength="13.8" lengthAdjust="spacingAndGlyphs">...</text>
<text x="593.4" y="222.9" textLength="47.8" lengthAdjust="spacingAndGlyphs">0 rows</text>
<text x="670.8" y="222.9" textLength="35.2" lengthAdjust="spacingAndGlyphs">17 &gt;</text>
<rect x="523.18" y="259.80" width="213.34" height="77.33" fill="#fff" stroke="none"/>
<rect x="524.63" y="261.25" width="210.44" height="26.32" fill="#f5f5f5" stroke="none"/>
<path d="M523.18 289.13H736.52M523.18 313.13H736.52M587.30 314.33V335.83M672.80 314.33V335.83" class="s"/>
<rect x="523.18" y="259.80" width="213.34" height="77.33" fill="none" stroke="#000" stroke-width="1.33"/>
<text class="b" x="529.8" y="276.5" textLength="126.8" lengthAdjust="spacingAndGlyphs">ss_proceso_adq</text>
<text x="681.5" y="277.3" textLength="48.0" lengthAdjust="spacingAndGlyphs">[table]</text>
<text x="526.7" y="304.9" textLength="13.8" lengthAdjust="spacingAndGlyphs">...</text>
<text x="526.8" y="328.7" textLength="26.0" lengthAdjust="spacingAndGlyphs">&lt; 5</text>
<text x="606.2" y="328.7" textLength="47.8" lengthAdjust="spacingAndGlyphs">0 rows</text>
<text x="705.4" y="328.7" textLength="26.0" lengthAdjust="spacingAndGlyphs">6 &gt;</text>
<rect x="536.51" y="463.50" width="186.67" height="77.33" fill="#fff" stroke="none"/>
<rect x="537.97" y="464.95" width="183.77" height="26.32" fill="#f5f5f5" stroke="none"/>
<path d="M536.51 492.83H723.19M536.51 516.83H723.19M583.30 518.03V539.53M668.90 518.03V539.53" class="s"/>
<rect x="536.51" y="463.50" width="186.67" height="77.33" fill="none" stroke="#000" stroke-width="1.33"/>
<text class="b" x="543.1" y="480.2" textLength="104.2" lengthAdjust="spacingAndGlyphs">ss_programa</text>
<text x="668.2" y="481.0" textLength="48.0" lengthAdjust="spacingAndGlyphs">[table]</text>
<text x="540.1" y="508.6" textLength="13.8" lengthAdjust="spacingAndGlyphs">...</text>
<text x="540.1" y="532.4" textLength="26.0" lengthAdjust="spacingAndGlyphs">&lt; 3</text>
<text x="593.0" y="532.4" textLength="66.2" lengthAdjust="spacingAndGlyphs">108 rows</text>
<text x="682.8" y="532.4" textLength="35.2" lengthAdjust="spacingAndGlyphs">12 &gt;</text>
<rect x="475.37" y="1272.80" width="310.67" height="77.33" fill="#fff" stroke="none"/>
<rect x="476.81" y="1274.26" width="307.77" height="26.32" fill="#f5f5f5" stroke="none"/>
<path d="M475.37 1302.13H786.04M475.37 1326.13H786.04M562.20 1327.33V1348.83M684.80 1327.33V1348.83" class="s"/>
<rect x="475.37" y="1272.80" width="310.67" height="77.33" fill="none" stroke="#000" stroke-width="1.33"/>
<text class="b" x="482.0" y="1289.5" textLength="207.0" lengthAdjust="spacingAndGlyphs">ss_fuente_financiamiento</text>
<text x="731.1" y="1290.3" textLength="48.0" lengthAdjust="spacingAndGlyphs">[table]</text>
<text x="478.9" y="1317.9" textLength="13.8" lengthAdjust="spacingAndGlyphs">...</text>
<text x="599.6" y="1341.7" textLength="47.8" lengthAdjust="spacingAndGlyphs">0 rows</text>
<text x="754.9" y="1341.7" textLength="26.0" lengthAdjust="spacingAndGlyphs">5 &gt;</text>
<rect x="526.15" y="1660.80" width="208.00" height="77.33" fill="#fff" stroke="none"/>
<rect x="527.60" y="1662.26" width="205.10" height="26.32" fill="#f5f5f5" stroke="none"/>
<path d="M526.15 1690.13H734.15M526.15 1714.13H734.15M588.80 1715.33V1736.83M672.60 1715.33V1736.83" class="s"/>
<rect x="526.15" y="1660.80" width="208.00" height="77.33" fill="none" stroke="#000" stroke-width="1.33"/>
<text class="b" x="532.8" y="1677.5" textLength="122.3" lengthAdjust="spacingAndGlyphs">ss_ges_pres_es</text>
<text x="679.2" y="1678.3" textLength="48.0" lengthAdjust="spacingAndGlyphs">[table]</text>
<text x="529.7" y="1705.9" textLength="13.8" lengthAdjust="spacingAndGlyphs">...</text>
<text x="529.8" y="1729.7" textLength="26.0" lengthAdjust="spacingAndGlyphs">&lt; 6</text>
<text x="606.8" y="1729.7" textLength="47.8" lengthAdjust="spacingAndGlyphs">0 rows</text>
<text x="703.0" y="1729.7" textLength="26.0" lengthAdjust="spacingAndGlyphs">7 &gt;</text>
<rect x="546.20" y="1802.20" width="168.00" height="77.33" fill="#fff" stroke="none"/>
<rect x="547.65" y="1803.66" width="165.10" height="26.32" fill="#f5f5f5" stroke="none"/>
<path d="M546.20 1831.53H714.20M546.20 1855.53H714.20M595.50 1856.73V1878.23M666.20 1856.73V1878.23" class="s"/>
<rect x="546.20" y="1802.20" width="168.00" height="77.33" fill="none" stroke="#000" stroke-width="1.33"/>
<text class="b" x="552.8" y="1818.9" textLength="88.9" lengthAdjust="spacingAndGlyphs">ss_cuentas</text>
<text x="659.2" y="1819.7" textLength="48.0" lengthAdjust="spacingAndGlyphs">[table]</text>
<text x="549.7" y="1847.3" textLength="13.8" lengthAdjust="spacingAndGlyphs">...</text>
<text x="549.8" y="1871.1" textLength="26.0" lengthAdjust="spacingAndGlyphs">&lt; 2</text>
<text x="607.0" y="1871.1" textLength="47.8" lengthAdjust="spacingAndGlyphs">0 rows</text>
<text x="683.1" y="1871.1" textLength="26.0" lengthAdjust="spacingAndGlyphs">6 &gt;</text>
<rect x="957.38" y="284.90" width="205.34" height="77.33" fill="#fff" stroke="none"/>
<rect x="958.83" y="286.35" width="202.44" height="26.32" fill="#f5f5f5" stroke="none"/>
<path d="M957.38 314.23H1162.72M957.38 338.23H1162.72M1018.60 339.43V360.93M1101.10 339.43V360.93" class="s"/>
<rect x="957.38" y="284.90" width="205.34" height="77.33" fill="none" stroke="#000" stroke-width="1.33"/>
<text class="b" x="964.0" y="301.6" textLength="120.0" lengthAdjust="spacingAndGlyphs">ss_contrato_oc</text>
<text x="1107.7" y="302.4" textLength="48.0" lengthAdjust="spacingAndGlyphs">[table]</text>
<text x="960.9" y="330.0" textLength="13.8" lengthAdjust="spacingAndGlyphs">...</text>
<text x="961.0" y="353.8" textLength="26.0" lengthAdjust="spacingAndGlyphs">&lt; 6</text>
<text x="1036.0" y="353.8" textLength="47.8" lengthAdjust="spacingAndGlyphs">0 rows</text>
<text x="1131.6" y="353.8" textLength="26.0" lengthAdjust="spacingAndGlyphs">7 &gt;</text>
<rect x="971.83" y="463.50" width="177.34" height="77.33" fill="#fff" stroke="none"/>
<rect x="973.28" y="464.95" width="174.44" height="26.32" fill="#f5f5f5" stroke="none"/>
<path d="M971.83 492.83H1149.17M971.83 516.83H1149.17M1021.30 518.03V539.53M1092.20 518.03V539.53" class="s"/>
<rect x="971.83" y="463.50" width="177.34" height="77.33" fill="none" stroke="#000" stroke-width="1.33"/>
<text class="b" x="978.5" y="480.2" textLength="96.8" lengthAdjust="spacingAndGlyphs">ss_proyecto</text>
<text x="1094.2" y="481.0" textLength="48.0" lengthAdjust="spacingAndGlyphs">[table]</text>
<text x="975.4" y="508.6" textLength="13.8" lengthAdjust="spacingAndGlyphs">...</text>
<text x="975.5" y="532.4" textLength="26.0" lengthAdjust="spacingAndGlyphs">&lt; 4</text>
<text x="1032.9" y="532.4" textLength="47.8" lengthAdjust="spacingAndGlyphs">3 rows</text>
<text x="1108.8" y="532.4" textLength="35.2" lengthAdjust="spacingAndGlyphs">13 &gt;</text>
<rect x="919.95" y="568.90" width="280.00" height="77.33" fill="#fff" stroke="none"/>
<rect x="921.40" y="570.36" width="277.10" height="26.32" fill="#f5f5f5" stroke="none"/>
<path d="M919.95 598.23H1199.95M919.95 622.23H1199.95M995.80 623.43V644.93M1109.10 623.43V644.93" class="s"/>
<rect x="919.95" y="568.90" width="280.00" height="77.33" fill="none" stroke="#000" stroke-width="1.33"/>
<text class="b" x="926.6" y="585.6" textLength="182.6" lengthAdjust="spacingAndGlyphs">ss_categoria_convenio</text>
<text x="1145.0" y="586.4" textLength="48.0" lengthAdjust="spacingAndGlyphs">[table]</text>
<text x="923.5" y="614.0" textLength="13.8" lengthAdjust="spacingAndGlyphs">...</text>
<text x="1028.6" y="637.8" textLength="47.8" lengthAdjust="spacingAndGlyphs">2 rows</text>
<text x="1168.8" y="637.8" textLength="26.0" lengthAdjust="spacingAndGlyphs">4 &gt;</text>
<rect x="934.70" y="677.00" width="252.00" height="77.33" fill="#fff" stroke="none"/>
<rect x="936.15" y="678.46" width="249.10" height="26.32" fill="#f5f5f5" stroke="none"/>
<path d="M934.70 706.33H1186.70M934.70 730.33H1186.70M1001.20 731.53V753.03M1105.40 731.53V753.03" class="s"/>
<rect x="934.70" y="677.00" width="252.00" height="77.33" fill="none" stroke="#000" stroke-width="1.33"/>
<text class="b" x="941.3" y="693.7" textLength="159.4" lengthAdjust="spacingAndGlyphs">ss_techo_pres_goes</text>
<text x="1131.7" y="694.5" textLength="48.0" lengthAdjust="spacingAndGlyphs">[table]</text>
<text x="938.2" y="722.1" textLength="13.8" lengthAdjust="spacingAndGlyphs">...</text>
<text x="1029.4" y="745.9" textLength="47.8" lengthAdjust="spacingAndGlyphs">0 rows</text>
<text x="1155.6" y="745.9" textLength="26.0" lengthAdjust="spacingAndGlyphs">1 &gt;</text>
<rect x="934.71" y="1270.30" width="250.67" height="77.33" fill="#fff" stroke="none"/>
<rect x="936.17" y="1271.76" width="247.77" height="26.32" fill="#f5f5f5" stroke="none"/>
<path d="M934.71 1299.63H1185.38M934.71 1323.63H1185.38M1012.00 1324.83V1346.33M1109.20 1324.83V1346.33" class="s"/>
<rect x="934.71" y="1270.30" width="250.67" height="77.33" fill="none" stroke="#000" stroke-width="1.33"/>
<text class="b" x="941.3" y="1287.0" textLength="157.6" lengthAdjust="spacingAndGlyphs">ss_fuente_proyecto</text>
<text x="1130.4" y="1287.8" textLength="48.0" lengthAdjust="spacingAndGlyphs">[table]</text>
<text x="938.2" y="1315.4" textLength="13.8" lengthAdjust="spacingAndGlyphs">...</text>
<text x="938.3" y="1339.2" textLength="26.0" lengthAdjust="spacingAndGlyphs">&lt; 1</text>
<text x="1036.7" y="1339.2" textLength="47.8" lengthAdjust="spacingAndGlyphs">0 rows</text>
<text x="1154.3" y="1339.2" textLength="26.0" lengthAdjust="spacingAndGlyphs">1 &gt;</text>
<rect x="902.71" y="1375.80" width="314.67" height="77.33" fill="#fff" stroke="none"/>
<rect x="904.17" y="1377.26" width="311.77" height="26.32" fill="#f5f5f5" stroke="none"/>
<path d="M902.71 1405.13H1217.38M902.71 1429.13H1217.38M1001.50 1430.33V1451.83M1119.70 1430.33V1451.83" class="s"/>
<rect x="902.71" y="1375.80" width="314.67" height="77.33" fill="none" stroke="#000" stroke-width="1.33"/>
<text class="b" x="909.3" y="1392.5" textLength="211.1" lengthAdjust="spacingAndGlyphs">ss_proy_aportramo_tramo</text>
<text x="1162.4" y="1393.3" textLength="48.0" lengthAdjust="spacingAndGlyphs">[table]</text>
<text x="906.2" y="1420.9" textLength="13.8" lengthAdjust="spacingAndGlyphs">...</text>
<text x="906.3" y="1444.7" textLength="26.0" lengthAdjust="spacingAndGlyphs">&lt; 1</text>
<text x="1036.7" y="1444.7" textLength="47.8" lengthAdjust="spacingAndGlyphs">0 rows</text>
<text x="1186.3" y="1444.7" textLength="26.0" lengthAdjust="spacingAndGlyphs">3 &gt;</text>
<rect x="882.66" y="1697.00" width="354.67" height="77.33" fill="#fff" stroke="none"/>
<rect x="884.12" y="1698.46" width="351.77" height="26.32" fill="#f5f5f5" stroke="none"/>
<path d="M882.66 1726.33H1237.34M882.66 1750.33H1237.34M994.40 1751.53V1773.03M1126.30 1751.53V1773.03" class="s"/>
<rect x="882.66" y="1697.00" width="354.67" height="77.33" fill="none" stroke="#000" stroke-width="1.33"/>
<text class="b" x="889.3" y="1713.7" textLength="243.7" lengthAdjust="spacingAndGlyphs">ss_rel_ges_pres_es_anio_fiscal</text>
<text x="1182.4" y="1714.5" textLength="48.0" lengthAdjust="spacingAndGlyphs">[table]</text>
<text x="886.2" y="1742.1" textLength="13.8" lengthAdjust="spacingAndGlyphs">...</text>
<text x="886.3" y="1765.9" textLength="26.0" lengthAdjust="spacingAndGlyphs">&lt; 4</text>
<text x="1036.5" y="1765.9" textLength="47.8" lengthAdjust="spacingAndGlyphs">0 rows</text>
<text x="1206.2" y="1765.9" textLength="26.0" lengthAdjust="spacingAndGlyphs">5 &gt;</text>
<rect x="1388.75" y="854.40" width="268.00" height="77.33" fill="#fff" stroke="none"/>
<rect x="1390.20" y="855.86" width="265.10" height="26.32" fill="#f5f5f5" stroke="none"/>
<path d="M1388.75 883.73H1656.75M1388.75 907.73H1656.75M1471.30 908.93V930.43M1575.30 908.93V930.43" class="s"/>
<rect x="1388.75" y="854.40" width="268.00" height="77.33" fill="none" stroke="#000" stroke-width="1.33"/>
<text class="b" x="1395.4" y="871.1" textLength="172.1" lengthAdjust="spacingAndGlyphs">ss_techo_prog_pres_f</text>
<text x="1601.8" y="871.9" textLength="48.0" lengthAdjust="spacingAndGlyphs">[table]</text>
<text x="1392.3" y="899.5" textLength="13.8" lengthAdjust="spacingAndGlyphs">...</text>
<text x="1392.4" y="923.3" textLength="26.0" lengthAdjust="spacingAndGlyphs">&lt; 3</text>
<text x="1499.4" y="923.3" textLength="47.8" lengthAdjust="spacingAndGlyphs">0 rows</text>
<text x="1625.6" y="923.3" textLength="26.0" lengthAdjust="spacingAndGlyphs">1 &gt;</text>
<rect x="1335.41" y="1414.30" width="374.67" height="77.33" fill="#fff" stroke="none"/>
<rect x="1336.87" y="1415.76" width="371.77" height="26.32" fill="#f5f5f5" stroke="none"/>
<path d="M1335.41 1443.63H1710.09M1335.41 1467.63H1710.09M1459.20 1468.83V1490.33M1603.50 1468.83V1490.33" class="s"/>
<rect x="1335.41" y="1414.30" width="374.67" height="77.33" fill="none" stroke="#000" stroke-width="1.33"/>
<text class="b" x="1342.0" y="1431.0" textLength="260.9" lengthAdjust="spacingAndGlyphs">ss_rel_pres_anio_financiamiento</text>
<text x="1655.1" y="1431.8" textLength="48.0" lengthAdjust="spacingAndGlyphs">[table]</text>
<text x="1339.0" y="1459.4" textLength="13.8" lengthAdjust="spacingAndGlyphs">...</text>
<text x="1339.0" y="1483.2" textLength="26.0" lengthAdjust="spacingAndGlyphs">&lt; 3</text>
<text x="1507.5" y="1483.2" textLength="47.8" lengthAdjust="spacingAndGlyphs">0 rows</text>
<rect x="1392.80" y="1519.80" width="260.00" height="77.33" fill="#fff" stroke="none"/>
<rect x="1394.25" y="1521.26" width="257.10" height="26.32" fill="#f5f5f5" stroke="none"/>
<path d="M1392.80 1549.13H1652.80M1392.80 1573.13H1652.80M1472.60 1574.33V1595.83M1573.70 1574.33V1595.83" class="s"/>
<rect x="1392.80" y="1519.80" width="260.00" height="77.33" fill="none" stroke="#000" stroke-width="1.33"/>
<text class="b" x="1399.4" y="1536.5" textLength="165.7" lengthAdjust="spacingAndGlyphs">ss_tope_presupestal</text>
<text x="1597.8" y="1537.3" textLength="48.0" lengthAdjust="spacingAndGlyphs">[table]</text>
<text x="1396.3" y="1564.9" textLength="13.8" lengthAdjust="spacingAndGlyphs">...</text>
<text x="1396.4" y="1588.7" textLength="26.0" lengthAdjust="spacingAndGlyphs">&lt; 6</text>
<text x="1499.3" y="1588.7" textLength="47.8" lengthAdjust="spacingAndGlyphs">0 rows</text>
<text x="1621.7" y="1588.7" textLength="26.0" lengthAdjust="spacingAndGlyphs">2 &gt;</text>
<rect x="1406.00" y="1910.40" width="232.00" height="77.33" fill="#fff" stroke="none"/>
<rect x="1407.45" y="1911.86" width="229.10" height="26.32" fill="#f5f5f5" stroke="none"/>
<path d="M1406.00 1939.73H1638.00M1406.00 1963.73H1638.00M1476.70 1964.93V1986.43M1568.50 1964.93V1986.43" class="s"/>
<rect x="1406.00" y="1910.40" width="232.00" height="77.33" fill="none" stroke="#000" stroke-width="1.33"/>
<text class="b" x="1412.6" y="1927.1" textLength="142.8" lengthAdjust="spacingAndGlyphs">ss_transferencias</text>
<text x="1583.0" y="1927.9" textLength="48.0" lengthAdjust="spacingAndGlyphs">[table]</text>
<text x="1409.5" y="1955.5" textLength="13.8" lengthAdjust="spacingAndGlyphs">...</text>
<text x="1409.6" y="1979.3" textLength="26.0" lengthAdjust="spacingAndGlyphs">&lt; 4</text>
<text x="1498.7" y="1979.3" textLength="47.8" lengthAdjust="spacingAndGlyphs">0 rows</text>
<text x="1606.9" y="1979.3" textLength="26.0" lengthAdjust="spacingAndGlyphs">1 &gt;</text>
<rect x="1903.36" y="133.00" width="250.67" height="77.33" fill="#fff" stroke="none"/>
<rect x="1904.81" y="134.45" width="247.77" height="26.33" fill="#f5f5f5" stroke="none"/>
<path d="M1903.36 162.33H2154.03M1903.36 186.33H2154.03M1980.70 187.53V209.03M2077.80 187.53V209.03" class="s"/>
<rect x="1903.36" y="133.00" width="250.67" height="77.33" fill="none" stroke="#000" stroke-width="1.33"/>
<text class="b" x="1910.0" y="149.7" textLength="157.6" lengthAdjust="spacingAndGlyphs">ss_po_mont_fuent_i</text>
<text x="2099.1" y="150.5" textLength="48.0" lengthAdjust="spacingAndGlyphs">[table]</text>
<text x="1906.9" y="178.1" textLength="13.8" lengthAdjust="spacingAndGlyphs">...</text>
<text x="1907.0" y="201.9" textLength="26.0" lengthAdjust="spacingAndGlyphs">&lt; 6</text>
<text x="2005.4" y="201.9" textLength="47.8" lengthAdjust="spacingAndGlyphs">0 rows</text>
<text x="2122.9" y="201.9" textLength="26.0" lengthAdjust="spacingAndGlyphs">6 &gt;</text>
<rect x="1898.02" y="352.90" width="262.67" height="77.33" fill="#fff" stroke="none"/>
<rect x="1899.47" y="354.35" width="259.77" height="26.32" fill="#f5f5f5" stroke="none"/>
<path d="M1898.02 382.23H2160.69M1898.02 406.23H2160.69M1979.40 407.43V428.93M2080.70 407.43V428.93" class="s"/>
<rect x="1898.02" y="352.90" width="262.67" height="77.33" fill="none" stroke="#000" stroke-width="1.33"/>
<text class="b" x="1904.7" y="369.6" textLength="168.0" lengthAdjust="spacingAndGlyphs">ss_pog_mont_fuent_i</text>
<text x="2105.7" y="370.4" textLength="48.0" lengthAdjust="spacingAndGlyphs">[table]</text>
<text x="1901.6" y="398.0" textLength="13.8" lengthAdjust="spacingAndGlyphs">...</text>
<text x="1901.7" y="421.8" textLength="26.0" lengthAdjust="spacingAndGlyphs">&lt; 4</text>
<text x="2006.2" y="421.8" textLength="47.8" lengthAdjust="spacingAndGlyphs">0 rows</text>
<text x="2129.6" y="421.8" textLength="26.0" lengthAdjust="spacingAndGlyphs">2 &gt;</text>
<rect x="1884.63" y="458.20" width="289.34" height="77.33" fill="#fff" stroke="none"/>
<rect x="1886.08" y="459.65" width="286.44" height="26.32" fill="#f5f5f5" stroke="none"/>
<path d="M1884.63 487.53H2173.97M1884.63 511.53H2173.97M1979.10 512.73V534.23M2095.30 512.73V534.23" class="s"/>
<rect x="1884.63" y="458.20" width="289.34" height="77.33" fill="none" stroke="#000" stroke-width="1.33"/>
<text class="b" x="1891.3" y="474.9" textLength="189.7" lengthAdjust="spacingAndGlyphs">ss_proy_est_por_fuente</text>
<text x="2119.0" y="475.7" textLength="48.0" lengthAdjust="spacingAndGlyphs">[table]</text>
<text x="1888.2" y="503.3" textLength="13.8" lengthAdjust="spacingAndGlyphs">...</text>
<text x="1888.3" y="527.1" textLength="26.0" lengthAdjust="spacingAndGlyphs">&lt; 2</text>
<text x="2013.3" y="527.1" textLength="47.8" lengthAdjust="spacingAndGlyphs">0 rows</text>
<rect x="1898.03" y="627.70" width="261.34" height="77.33" fill="#fff" stroke="none"/>
<rect x="1899.48" y="629.16" width="258.44" height="26.32" fill="#f5f5f5" stroke="none"/>
<path d="M1898.03 657.03H2159.37M1898.03 681.03H2159.37M1983.20 682.23V703.73M2090.00 682.23V703.73" class="s"/>
<rect x="1898.03" y="627.70" width="261.34" height="77.33" fill="none" stroke="#000" stroke-width="1.33"/>
<text class="b" x="1904.7" y="644.4" textLength="167.1" lengthAdjust="spacingAndGlyphs">ss_rel_techo_pres_ut</text>
<text x="2104.4" y="645.2" textLength="48.0" lengthAdjust="spacingAndGlyphs">[table]</text>
<text x="1901.6" y="672.8" textLength="13.8" lengthAdjust="spacingAndGlyphs">...</text>
<text x="1901.7" y="696.6" textLength="26.0" lengthAdjust="spacingAndGlyphs">&lt; 2</text>
<text x="2012.7" y="696.6" textLength="47.8" lengthAdjust="spacingAndGlyphs">0 rows</text>
<rect x="1877.96" y="816.90" width="302.67" height="77.33" fill="#fff" stroke="none"/>
<rect x="1879.41" y="818.36" width="299.77" height="26.32" fill="#f5f5f5" stroke="none"/>
<path d="M1877.96 846.23H2180.64M1877.96 870.23H2180.64M1978.00 871.43V892.93M2097.90 871.43V892.93" class="s"/>
<rect x="1877.96" y="816.90" width="302.67" height="77.33" fill="none" stroke="#000" stroke-width="1.33"/>
<text class="b" x="1884.6" y="833.6" textLength="200.8" lengthAdjust="spacingAndGlyphs">ss_techo_prog_pres_anio</text>
<text x="2125.7" y="834.4" textLength="48.0" lengthAdjust="spacingAndGlyphs">[table]</text>
<text x="1881.5" y="862.0" textLength="13.8" lengthAdjust="spacingAndGlyphs">...</text>
<text x="1881.6" y="885.8" textLength="26.0" lengthAdjust="spacingAndGlyphs">&lt; 2</text>
<text x="2014.1" y="885.8" textLength="47.8" lengthAdjust="spacingAndGlyphs">0 rows</text>
<rect x="1867.40" y="1451.60" width="324.00" height="77.33" fill="#fff" stroke="none"/>
<rect x="1868.85" y="1453.06" width="321.10" height="26.32" fill="#f5f5f5" stroke="none"/>
<path d="M1867.40 1480.93H2191.40M1867.40 1504.93H2191.40M1973.80 1506.13V1527.63M2102.10 1506.13V1527.63" class="s"/>
<rect x="1867.40" y="1451.60" width="324.00" height="77.33" fill="none" stroke="#000" stroke-width="1.33"/>
<text class="b" x="1874.0" y="1468.3" textLength="219.0" lengthAdjust="spacingAndGlyphs">ss_tope_detalle_matriculas</text>
<text x="2136.4" y="1469.1" textLength="48.0" lengthAdjust="spacingAndGlyphs">[table]</text>
<text x="1870.9" y="1496.7" textLength="13.8" lengthAdjust="spacingAndGlyphs">...</text>
<text x="1871.0" y="1520.5" textLength="26.0" lengthAdjust="spacingAndGlyphs">&lt; 1</text>
<text x="2014.1" y="1520.5" textLength="47.8" lengthAdjust="spacingAndGlyphs">0 rows</text>
<rect x="1775.40" y="1557.00" width="508.00" height="77.33" fill="#fff" stroke="none"/>
<rect x="1776.85" y="1558.46" width="505.10" height="26.32" fill="#f5f5f5" stroke="none"/>
<path d="M1775.40 1586.33H2283.40M1775.40 1610.33H2283.40M1943.30 1611.53V1633.03M2132.80 1611.53V1633.03" class="s"/>
<rect x="1775.40" y="1557.00" width="508.00" height="77.33" fill="none" stroke="#000" stroke-width="1.33"/>
<text class="b" x="1782.0" y="1573.7" textLength="372.2" lengthAdjust="spacingAndGlyphs">finanzas.sg_presupuesto_escolar_movimiento</text>
<text x="2228.4" y="1574.5" textLength="48.0" lengthAdjust="spacingAndGlyphs">[table]</text>
<text x="1778.9" y="1602.1" textLength="13.8" lengthAdjust="spacingAndGlyphs">...</text>
<text x="1779.0" y="1625.9" textLength="26.0" lengthAdjust="spacingAndGlyphs">&lt; 1</text>
<text x="2014.2" y="1625.9" textLength="47.8" lengthAdjust="spacingAndGlyphs">0 rows</text>
<rect x="2348.80" y="1599.70" width="564.00" height="77.33" fill="#fff" stroke="none"/>
<rect x="2350.25" y="1601.16" width="561.10" height="26.32" fill="#f5f5f5" stroke="none"/>
<path d="M2348.80 1629.03H2912.80M2348.80 1653.03H2912.80M2535.10 1654.23V1675.73M2743.20 1654.23V1675.73" class="s"/>
<rect x="2348.80" y="1599.70" width="564.00" height="77.33" fill="none" stroke="#000" stroke-width="1.33"/>
<text class="b" x="2355.4" y="1616.4" textLength="419.9" lengthAdjust="spacingAndGlyphs">finanzas.sg_transferencia_direccion_departamental</text>
<text x="2857.8" y="1617.2" textLength="48.0" lengthAdjust="spacingAndGlyphs">[table]</text>
<text x="2352.3" y="1644.8" textLength="13.8" lengthAdjust="spacingAndGlyphs">...</text>
<text x="2352.4" y="1668.6" textLength="26.0" lengthAdjust="spacingAndGlyphs">&lt; 1</text>
<text x="2615.3" y="1668.6" textLength="47.8" lengthAdjust="spacingAndGlyphs">0 rows</text>
<rect x="2436.66" y="1705.00" width="386.67" height="77.33" fill="#fff" stroke="none"/>
<rect x="2438.11" y="1706.46" width="383.77" height="26.32" fill="#f5f5f5" stroke="none"/>
<path d="M2436.66 1734.33H2823.34M2436.66 1758.33H2823.34M2564.70 1759.53V1781.03M2712.70 1759.53V1781.03" class="s"/>
<rect x="2436.66" y="1705.00" width="386.67" height="77.33" fill="none" stroke="#000" stroke-width="1.33"/>
<text class="b" x="2443.3" y="1721.7" textLength="271.1" lengthAdjust="spacingAndGlyphs">finanzas.sg_transferencias_a_ced</text>
<text x="2768.4" y="1722.5" textLength="48.0" lengthAdjust="spacingAndGlyphs">[table]</text>
<text x="2440.2" y="1750.1" textLength="13.8" lengthAdjust="spacingAndGlyphs">...</text>
<text x="2440.3" y="1773.9" textLength="26.0" lengthAdjust="spacingAndGlyphs">&lt; 1</text>
<text x="2614.8" y="1773.9" textLength="47.8" lengthAdjust="spacingAndGlyphs">0 rows</text>
<rect x="2391.48" y="1810.30" width="477.34" height="77.33" fill="#fff" stroke="none"/>
<rect x="2392.93" y="1811.76" width="474.44" height="26.32" fill="#f5f5f5" stroke="none"/>
<path d="M2391.48 1839.63H2868.82M2391.48 1863.63H2868.82M2548.60 1864.83V1886.33M2727.10 1864.83V1886.33" class="s"/>
<rect x="2391.48" y="1810.30" width="477.34" height="77.33" fill="none" stroke="#000" stroke-width="1.33"/>
<text class="b" x="2398.1" y="1827.0" textLength="347.6" lengthAdjust="spacingAndGlyphs">ss_desembolso_transferencia_componente</text>
<text x="2813.8" y="1827.8" textLength="48.0" lengthAdjust="spacingAndGlyphs">[table]</text>
<text x="2395.0" y="1855.4" textLength="13.8" lengthAdjust="spacingAndGlyphs">...</text>
<text x="2395.1" y="1879.2" textLength="26.0" lengthAdjust="spacingAndGlyphs">&lt; 1</text>
<text x="2614.0" y="1879.2" textLength="47.8" lengthAdjust="spacingAndGlyphs">0 rows</text>
<rect x="1363.47" y="91.70" width="318.67" height="282.64" fill="#fff" stroke="none"/>
<rect x="1364.92" y="93.16" width="315.77" height="26.33" fill="#f5f5f5" stroke="none"/>
<path d="M1363.47 121.03H1682.14M1363.47 150.36H1682.14M1363.47 179.69H1682.14M1363.47 209.02H1682.14M1363.47 238.35H1682.14M1363.47 267.68H1682.14M1363.47 297.01H1682.14M1363.47 326.34H1682.14M1363.47 350.34H1682.14M1468.80 351.54V373.04M1594.00 351.54V373.04" class="s"/>
<rect x="1363.47" y="91.70" width="318.67" height="282.64" fill="none" stroke="#000" stroke-width="1.33"/>
<text class="b" x="1370.1" y="108.4" textLength="215.0" lengthAdjust="spacingAndGlyphs">ss_compromisos_prestario</text>
<text x="1627.2" y="109.2" textLength="48.0" lengthAdjust="spacingAndGlyphs">[table]</text>
<g fill="#d6de00" stroke="none"><circle cx="1376.0" cy="130.9" r="3.05"/><path d="M1373.90 133.03L1378.10 133.03L1377.05 136.13L1377.05 137.13h0.6v1h-0.6v1.3h0.6v1h-0.6v1.4h0.9v1.2h-0.9L1377.05 143.13Q1377.05 143.93 1376.00 143.93Q1374.95 143.93 1374.95 143.13L1374.95 136.13Z"/></g><circle cx="1376.0" cy="130.0" r="0.9" fill="#fff"/>
<text x="1406.4" y="139.2" textLength="51.5" lengthAdjust="spacingAndGlyphs">com_id</text>
<g fill="#bdbdbd" stroke="none"><circle cx="1376.0" cy="160.3" r="3.05"/><path d="M1373.90 162.36L1378.10 162.36L1377.05 165.46L1377.05 166.46h0.6v1h-0.6v1.3h0.6v1h-0.6v1.4h0.9v1.2h-0.9L1377.05 172.46Q1377.05 173.26 1376.00 173.26Q1374.95 173.26 1374.95 172.46L1374.95 165.46Z"/></g><circle cx="1376.0" cy="159.4" r="0.9" fill="#fff"/>
<text x="1406.4" y="168.6" textLength="148.6" lengthAdjust="spacingAndGlyphs">com_usu_emision_id</text>
<g fill="#bdbdbd" stroke="none"><circle cx="1376.0" cy="189.6" r="3.05"/><path d="M1373.90 191.69L1378.10 191.69L1377.05 194.79L1377.05 195.79h0.6v1h-0.6v1.3h0.6v1h-0.6v1.4h0.9v1.2h-0.9L1377.05 201.79Q1377.05 202.59 1376.00 202.59Q1374.95 202.59 1374.95 201.79L1374.95 194.79Z"/></g><circle cx="1376.0" cy="188.7" r="0.9" fill="#fff"/>
<text x="1406.4" y="197.9" textLength="165.6" lengthAdjust="spacingAndGlyphs">com_usu_validacion_id</text>
<g fill="#bdbdbd" stroke="none"><circle cx="1376.0" cy="218.9" r="3.05"/><path d="M1373.90 221.02L1378.10 221.02L1377.05 224.12L1377.05 225.12h0.6v1h-0.6v1.3h0.6v1h-0.6v1.4h0.9v1.2h-0.9L1377.05 231.12Q1377.05 231.92 1376.00 231.92Q1374.95 231.92 1374.95 231.12L1374.95 224.12Z"/></g><circle cx="1376.0" cy="218.0" r="0.9" fill="#fff"/>
<text x="1406.4" y="227.2" textLength="110.8" lengthAdjust="spacingAndGlyphs">con_proceso_id</text>
<g fill="#bdbdbd" stroke="none"><circle cx="1376.0" cy="248.2" r="3.05"/><path d="M1373.90 250.35L1378.10 250.35L1377.05 253.45L1377.05 254.45h0.6v1h-0.6v1.3h0.6v1h-0.6v1.4h0.9v1.2h-0.9L1377.05 260.45Q1377.05 261.25 1376.00 261.25Q1374.95 261.25 1374.95 260.45L1374.95 253.45Z"/></g><circle cx="1376.0" cy="247.3" r="0.9" fill="#fff"/>
<text x="1406.4" y="256.5" textLength="148.8" lengthAdjust="spacingAndGlyphs">com_reserva_fondos</text>
<g fill="#bdbdbd" stroke="none"><circle cx="1376.0" cy="277.6" r="3.05"/><path d="M1373.90 279.68L1378.10 279.68L1377.05 282.78L1377.05 283.78h0.6v1h-0.6v1.3h0.6v1h-0.6v1.4h0.9v1.2h-0.9L1377.05 289.78Q1377.05 290.58 1376.00 290.58Q1374.95 290.58 1374.95 289.78L1374.95 282.78Z"/></g><circle cx="1376.0" cy="276.7" r="0.9" fill="#fff"/>
<text x="1406.4" y="285.9" textLength="123.5" lengthAdjust="spacingAndGlyphs">com_contrato_oc</text>
<g fill="#bdbdbd" stroke="none"><circle cx="1376.0" cy="306.9" r="3.05"/><path d="M1373.90 309.01L1378.10 309.01L1377.05 312.11L1377.05 313.11h0.6v1h-0.6v1.3h0.6v1h-0.6v1.4h0.9v1.2h-0.9L1377.05 319.11Q1377.05 319.91 1376.00 319.91Q1374.95 319.91 1374.95 319.11L1374.95 312.11Z"/></g><circle cx="1376.0" cy="306.0" r="0.9" fill="#fff"/>
<text x="1406.4" y="315.2" textLength="154.2" lengthAdjust="spacingAndGlyphs">com_fuente_recursos</text>
<text x="1367.0" y="342.1" textLength="13.8" lengthAdjust="spacingAndGlyphs">...</text>
<text x="1367.1" y="365.9" textLength="26.0" lengthAdjust="spacingAndGlyphs">&lt; 6</text>
<text x="1507.5" y="365.9" textLength="47.8" lengthAdjust="spacingAndGlyphs">0 rows</text>
<rect x="1368.57" y="402.10" width="306.67" height="194.65" fill="#fff" stroke="none"/>
<rect x="1370.02" y="403.56" width="303.77" height="26.32" fill="#f5f5f5" stroke="none"/>
<path d="M1368.57 431.43H1675.24M1368.57 460.76H1675.24M1368.57 490.09H1675.24M1368.57 519.42H1675.24M1368.57 548.75H1675.24M1368.57 572.75H1675.24M1464.40 573.95V595.45M1580.30 573.95V595.45" class="s"/>
<rect x="1368.57" y="402.10" width="306.67" height="194.65" fill="none" stroke="#000" stroke-width="1.33"/>
<text class="b" x="1375.2" y="418.8" textLength="183.6" lengthAdjust="spacingAndGlyphs">ss_fuente_aporte_proy</text>
<text x="1620.3" y="419.6" textLength="48.0" lengthAdjust="spacingAndGlyphs">[table]</text>
<g fill="#d6de00" stroke="none"><circle cx="1381.6" cy="441.3" r="3.05"/><path d="M1379.50 443.43L1383.70 443.43L1382.65 446.53L1382.65 447.53h0.6v1h-0.6v1.3h0.6v1h-0.6v1.4h0.9v1.2h-0.9L1382.65 453.53Q1382.65 454.33 1381.60 454.33Q1380.55 454.33 1380.55 453.53L1380.55 446.53Z"/></g><circle cx="1381.6" cy="440.4" r="0.9" fill="#fff"/>
<text x="1394.3" y="449.6" textLength="43.7" lengthAdjust="spacingAndGlyphs">fue_id</text>
<g fill="#bdbdbd" stroke="none"><circle cx="1381.6" cy="470.7" r="3.05"/><path d="M1379.50 472.76L1383.70 472.76L1382.65 475.86L1382.65 476.86h0.6v1h-0.6v1.3h0.6v1h-0.6v1.4h0.9v1.2h-0.9L1382.65 482.86Q1382.65 483.66 1381.60 483.66Q1380.55 483.66 1380.55 482.86L1380.55 475.86Z"/></g><circle cx="1381.6" cy="469.8" r="0.9" fill="#fff"/>
<text x="1394.3" y="479.0" textLength="92.1" lengthAdjust="spacingAndGlyphs">fue_recursos</text>
<g fill="#bdbdbd" stroke="none"><circle cx="1381.6" cy="500.0" r="3.05"/><path d="M1379.50 502.09L1383.70 502.09L1382.65 505.19L1382.65 506.19h0.6v1h-0.6v1.3h0.6v1h-0.6v1.4h0.9v1.2h-0.9L1382.65 512.19Q1382.65 512.99 1381.60 512.99Q1380.55 512.99 1380.55 512.19L1380.55 505.19Z"/></g><circle cx="1381.6" cy="499.1" r="0.9" fill="#fff"/>
<text x="1394.3" y="508.3" textLength="94.2" lengthAdjust="spacingAndGlyphs">fue_proyecto</text>
<g fill="#bdbdbd" stroke="none"><circle cx="1381.6" cy="529.3" r="3.05"/><path d="M1379.50 531.42L1383.70 531.42L1382.65 534.52L1382.65 535.52h0.6v1h-0.6v1.3h0.6v1h-0.6v1.4h0.9v1.2h-0.9L1382.65 541.52Q1382.65 542.32 1381.60 542.32Q1380.55 542.32 1380.55 541.52L1380.55 534.52Z"/></g><circle cx="1381.6" cy="528.4" r="0.9" fill="#fff"/>
<text x="1394.3" y="537.6" textLength="94.9" lengthAdjust="spacingAndGlyphs">fue_cat_conv</text>
<text x="1372.1" y="564.5" textLength="13.8" lengthAdjust="spacingAndGlyphs">...</text>
<text x="1372.2" y="588.4" textLength="26.0" lengthAdjust="spacingAndGlyphs">&lt; 3</text>
<text x="1498.5" y="588.4" textLength="47.8" lengthAdjust="spacingAndGlyphs">0 rows</text>
<text x="1644.1" y="588.4" textLength="26.0" lengthAdjust="spacingAndGlyphs">3 &gt;</text>
<rect x="1393.98" y="625.10" width="257.34" height="165.32" fill="#fff" stroke="none"/>
<rect x="1395.43" y="626.56" width="254.44" height="26.32" fill="#f5f5f5" stroke="none"/>
<path d="M1393.98 654.43H1651.32M1393.98 683.76H1651.32M1393.98 713.09H1651.32M1393.98 742.42H1651.32M1393.98 766.42H1651.32M1472.60 767.62V789.12M1572.70 767.62V789.12" class="s"/>
<rect x="1393.98" y="625.10" width="257.34" height="165.32" fill="none" stroke="#000" stroke-width="1.33"/>
<text class="b" x="1400.6" y="641.8" textLength="163.3" lengthAdjust="spacingAndGlyphs">ss_rel_techo_pres_fr</text>
<text x="1596.3" y="642.6" textLength="48.0" lengthAdjust="spacingAndGlyphs">[table]</text>
<g fill="#d6de00" stroke="none"><circle cx="1407.3" cy="664.3" r="3.05"/><path d="M1405.22 666.43L1409.42 666.43L1408.37 669.53L1408.37 670.53h0.6v1h-0.6v1.3h0.6v1h-0.6v1.4h0.9v1.2h-0.9L1408.37 676.53Q1408.37 677.33 1407.32 677.33Q1406.27 677.33 1406.27 676.53L1406.27 669.53Z"/></g><circle cx="1407.3" cy="663.4" r="0.9" fill="#fff"/>
<text x="1437.8" y="672.6" textLength="39.1" lengthAdjust="spacingAndGlyphs">rel_id</text>
<g fill="#bdbdbd" stroke="none"><circle cx="1407.3" cy="693.7" r="3.05"/><path d="M1405.22 695.76L1409.42 695.76L1408.37 698.86L1408.37 699.86h0.6v1h-0.6v1.3h0.6v1h-0.6v1.4h0.9v1.2h-0.9L1408.37 705.86Q1408.37 706.66 1407.32 706.66Q1406.27 706.66 1406.27 705.86L1406.27 698.86Z"/></g><circle cx="1407.3" cy="692.8" r="0.9" fill="#fff"/>
<text x="1437.8" y="702.0" textLength="134.2" lengthAdjust="spacingAndGlyphs">rel_fuente_recurso</text>
<g fill="#bdbdbd" stroke="none"><circle cx="1407.3" cy="723.0" r="3.05"/><path d="M1405.22 725.09L1409.42 725.09L1408.37 728.19L1408.37 729.19h0.6v1h-0.6v1.3h0.6v1h-0.6v1.4h0.9v1.2h-0.9L1408.37 735.19Q1408.37 735.99 1407.32 735.99Q1406.27 735.99 1406.27 735.19L1406.27 728.19Z"/></g><circle cx="1407.3" cy="722.1" r="0.9" fill="#fff"/>
<text x="1437.8" y="731.3" textLength="96.2" lengthAdjust="spacingAndGlyphs">rel_tech_pres</text>
<text x="1397.5" y="758.2" textLength="13.8" lengthAdjust="spacingAndGlyphs">...</text>
<text x="1397.6" y="782.0" textLength="26.0" lengthAdjust="spacingAndGlyphs">&lt; 2</text>
<text x="1498.8" y="782.0" textLength="47.8" lengthAdjust="spacingAndGlyphs">0 rows</text>
<text x="1620.2" y="782.0" textLength="26.0" lengthAdjust="spacingAndGlyphs">1 &gt;</text>
<rect x="1368.65" y="1163.60" width="308.00" height="165.32" fill="#fff" stroke="none"/>
<rect x="1370.10" y="1165.06" width="305.10" height="26.32" fill="#f5f5f5" stroke="none"/>
<path d="M1368.65 1192.93H1676.65M1368.65 1222.26H1676.65M1368.65 1251.59H1676.65M1368.65 1280.92H1676.65M1368.65 1304.92H1676.65M1469.90 1306.12V1327.62M1592.60 1306.12V1327.62" class="s"/>
<rect x="1368.65" y="1163.60" width="308.00" height="165.32" fill="none" stroke="#000" stroke-width="1.33"/>
<text class="b" x="1375.3" y="1180.3" textLength="204.9" lengthAdjust="spacingAndGlyphs">ss_proy_paripassu_tramo</text>
<text x="1621.7" y="1181.1" textLength="48.0" lengthAdjust="spacingAndGlyphs">[table]</text>
<g fill="#d6de00" stroke="none"><circle cx="1381.9" cy="1202.8" r="3.05"/><path d="M1379.78 1204.93L1383.98 1204.93L1382.93 1208.03L1382.93 1209.03h0.6v1h-0.6v1.3h0.6v1h-0.6v1.4h0.9v1.2h-0.9L1382.93 1215.03Q1382.93 1215.83 1381.88 1215.83Q1380.83 1215.83 1380.83 1215.03L1380.83 1208.03Z"/></g><circle cx="1381.9" cy="1201.9" r="0.9" fill="#fff"/>
<text x="1394.8" y="1211.1" textLength="44.2" lengthAdjust="spacingAndGlyphs">pro_id</text>
<g fill="#bdbdbd" stroke="none"><circle cx="1381.9" cy="1232.2" r="3.05"/><path d="M1379.78 1234.26L1383.98 1234.26L1382.93 1237.36L1382.93 1238.36h0.6v1h-0.6v1.3h0.6v1h-0.6v1.4h0.9v1.2h-0.9L1382.93 1244.36Q1382.93 1245.16 1381.88 1245.16Q1380.83 1245.16 1380.83 1244.36L1380.83 1237.36Z"/></g><circle cx="1381.9" cy="1231.3" r="0.9" fill="#fff"/>
<text x="1394.8" y="1240.5" textLength="146.9" lengthAdjust="spacingAndGlyphs">pro_fuente_recursos</text>
<g fill="#bdbdbd" stroke="none"><circle cx="1381.9" cy="1261.5" r="3.05"/><path d="M1379.78 1263.59L1383.98 1263.59L1382.93 1266.69L1382.93 1267.69h0.6v1h-0.6v1.3h0.6v1h-0.6v1.4h0.9v1.2h-0.9L1382.93 1273.69Q1382.93 1274.49 1381.88 1274.49Q1380.83 1274.49 1380.83 1273.69L1380.83 1266.69Z"/></g><circle cx="1381.9" cy="1260.6" r="0.9" fill="#fff"/>
<text x="1394.8" y="1269.8" textLength="74.5" lengthAdjust="spacingAndGlyphs">pro_tramo</text>
<text x="1372.2" y="1296.7" textLength="13.8" lengthAdjust="spacingAndGlyphs">...</text>
<text x="1372.3" y="1320.5" textLength="26.0" lengthAdjust="spacingAndGlyphs">&lt; 2</text>
<text x="1507.4" y="1320.5" textLength="47.8" lengthAdjust="spacingAndGlyphs">0 rows</text>
<rect x="1847.57" y="1702.60" width="362.67" height="311.97" fill="#fff" stroke="none"/>
<rect x="1849.02" y="1704.06" width="359.77" height="26.32" fill="#f5f5f5" stroke="none"/>
<path d="M1847.57 1731.93H2210.24M1847.57 1761.26H2210.24M1847.57 1790.59H2210.24M1847.57 1819.92H2210.24M1847.57 1849.25H2210.24M1847.57 1878.58H2210.24M1847.57 1907.91H2210.24M1847.57 1937.24H2210.24M1847.57 1966.57H2210.24M1847.57 1990.57H2210.24M1961.80 1991.77V2013.27M2096.50 1991.77V2013.27" class="s"/>
<rect x="1847.57" y="1702.60" width="362.67" height="311.97" fill="none" stroke="#000" stroke-width="1.33"/>
<text class="b" x="1854.2" y="1719.3" textLength="251.3" lengthAdjust="spacingAndGlyphs">ss_transferencias_componente</text>
<text x="2155.3" y="1720.1" textLength="48.0" lengthAdjust="spacingAndGlyphs">[table]</text>
<g fill="#d6de00" stroke="none"><circle cx="1860.5" cy="1741.8" r="3.05"/><path d="M1858.40 1743.93L1862.60 1743.93L1861.55 1747.03L1861.55 1748.03h0.6v1h-0.6v1.3h0.6v1h-0.6v1.4h0.9v1.2h-0.9L1861.55 1754.03Q1861.55 1754.83 1860.50 1754.83Q1859.45 1754.83 1859.45 1754.03L1859.45 1747.03Z"/></g><circle cx="1860.5" cy="1740.9" r="0.9" fill="#fff"/>
<text x="1890.8" y="1750.1" textLength="34.1" lengthAdjust="spacingAndGlyphs">tc_id</text>
<g fill="#bdbdbd" stroke="none"><circle cx="1860.5" cy="1771.2" r="3.05"/><path d="M1858.40 1773.26L1862.60 1773.26L1861.55 1776.36L1861.55 1777.36h0.6v1h-0.6v1.3h0.6v1h-0.6v1.4h0.9v1.2h-0.9L1861.55 1783.36Q1861.55 1784.16 1860.50 1784.16Q1859.45 1784.16 1859.45 1783.36L1859.45 1776.36Z"/></g><circle cx="1860.5" cy="1770.3" r="0.9" fill="#fff"/>
<text x="1890.8" y="1779.5" textLength="111.9" lengthAdjust="spacingAndGlyphs">tc_componente</text>
<g fill="#bdbdbd" stroke="none"><circle cx="1860.5" cy="1800.5" r="3.05"/><path d="M1858.40 1802.59L1862.60 1802.59L1861.55 1805.69L1861.55 1806.69h0.6v1h-0.6v1.3h0.6v1h-0.6v1.4h0.9v1.2h-0.9L1861.55 1812.69Q1861.55 1813.49 1860.50 1813.49Q1859.45 1813.49 1859.45 1812.69L1859.45 1805.69Z"/></g><circle cx="1860.5" cy="1799.6" r="0.9" fill="#fff"/>
<text x="1890.8" y="1808.8" textLength="137.8" lengthAdjust="spacingAndGlyphs">tc_subcomponente</text>
<g fill="#bdbdbd" stroke="none"><circle cx="1860.5" cy="1829.8" r="3.05"/><path d="M1858.40 1831.92L1862.60 1831.92L1861.55 1835.02L1861.55 1836.02h0.6v1h-0.6v1.3h0.6v1h-0.6v1.4h0.9v1.2h-0.9L1861.55 1842.02Q1861.55 1842.82 1860.50 1842.82Q1859.45 1842.82 1859.45 1842.02L1859.45 1835.02Z"/></g><circle cx="1860.5" cy="1828.9" r="0.9" fill="#fff"/>
<text x="1890.8" y="1838.1" textLength="186.7" lengthAdjust="spacingAndGlyphs">tc_unidad_presupuestaria</text>
<g fill="#bdbdbd" stroke="none"><circle cx="1860.5" cy="1859.1" r="3.05"/><path d="M1858.40 1861.25L1862.60 1861.25L1861.55 1864.35L1861.55 1865.35h0.6v1h-0.6v1.3h0.6v1h-0.6v1.4h0.9v1.2h-0.9L1861.55 1871.35Q1861.55 1872.15 1860.50 1872.15Q1859.45 1872.15 1859.45 1871.35L1859.45 1864.35Z"/></g><circle cx="1860.5" cy="1858.2" r="0.9" fill="#fff"/>
<text x="1890.8" y="1867.4" textLength="172.1" lengthAdjust="spacingAndGlyphs">tc_linea_presupuestaria</text>
<g fill="#bdbdbd" stroke="none"><circle cx="1860.5" cy="1888.5" r="3.05"/><path d="M1858.40 1890.58L1862.60 1890.58L1861.55 1893.68L1861.55 1894.68h0.6v1h-0.6v1.3h0.6v1h-0.6v1.4h0.9v1.2h-0.9L1861.55 1900.68Q1861.55 1901.48 1860.50 1901.48Q1859.45 1901.48 1859.45 1900.68L1859.45 1893.68Z"/></g><circle cx="1860.5" cy="1887.6" r="0.9" fill="#fff"/>
<text x="1890.8" y="1896.8" textLength="96.7" lengthAdjust="spacingAndGlyphs">tc_anio_fiscal</text>
<g fill="#bdbdbd" stroke="none"><circle cx="1860.5" cy="1917.8" r="3.05"/><path d="M1858.40 1919.91L1862.60 1919.91L1861.55 1923.01L1861.55 1924.01h0.6v1h-0.6v1.3h0.6v1h-0.6v1.4h0.9v1.2h-0.9L1861.55 1930.01Q1861.55 1930.81 1860.50 1930.81Q1859.45 1930.81 1859.45 1930.01L1859.45 1923.01Z"/></g><circle cx="1860.5" cy="1916.9" r="0.9" fill="#fff"/>
<text x="1890.8" y="1926.1" textLength="157.6" lengthAdjust="spacingAndGlyphs">tc_fuente_recursos_fk</text>
<g fill="#bdbdbd" stroke="none"><circle cx="1860.5" cy="1947.1" r="3.05"/><path d="M1858.40 1949.24L1862.60 1949.24L1861.55 1952.34L1861.55 1953.34h0.6v1h-0.6v1.3h0.6v1h-0.6v1.4h0.9v1.2h-0.9L1861.55 1959.34Q1861.55 1960.14 1860.50 1960.14Q1859.45 1960.14 1859.45 1959.34L1859.45 1952.34Z"/></g><circle cx="1860.5" cy="1946.2" r="0.9" fill="#fff"/>
<text x="1890.8" y="1955.4" textLength="116.9" lengthAdjust="spacingAndGlyphs">tc_transferencia</text>
<text x="1851.1" y="1982.4" textLength="13.8" lengthAdjust="spacingAndGlyphs">...</text>
<text x="1851.2" y="2006.2" textLength="26.0" lengthAdjust="spacingAndGlyphs">&lt; 7</text>
<text x="2005.3" y="2006.2" textLength="47.8" lengthAdjust="spacingAndGlyphs">0 rows</text>
<text x="2179.1" y="2006.2" textLength="26.0" lengthAdjust="spacingAndGlyphs">3 &gt;</text>
<rect x="851.95" y="891.77" width="416.00" height="349.29" fill="#fff" stroke="none"/>
<rect x="854.07" y="894.56" width="411.76" height="26.32" fill="#f5f5f5" stroke="none"/>
<path d="M851.95 922.43H1267.95M851.95 951.76H1267.95M851.95 981.09H1267.95M851.95 1010.42H1267.95M851.95 1039.75H1267.95M851.95 1069.08H1267.95M851.95 1098.41H1267.95M851.95 1127.74H1267.95M851.95 1157.07H1267.95M851.95 1186.40H1267.95M851.95 1215.73H1267.95M983.80 1216.93V1238.43M1135.80 1216.93V1238.43M1099.90 922.43V1215.73" class="s"/>
<rect x="851.95" y="891.77" width="416.00" height="349.29" fill="none" stroke="#000" stroke-width="2.67"/>
<text class="b" x="859.9" y="909.8" textLength="155.6" lengthAdjust="spacingAndGlyphs">ss_fuente_recursos</text>
<text x="1211.6" y="910.6" textLength="48.0" lengthAdjust="spacingAndGlyphs">[table]</text>
<g fill="#d6de00" stroke="none"><circle cx="867.0" cy="932.3" r="3.05"/><path d="M864.92 934.43L869.12 934.43L868.07 937.53L868.07 938.53h0.6v1h-0.6v1.3h0.6v1h-0.6v1.4h0.9v1.2h-0.9L868.07 944.53Q868.07 945.33 867.02 945.33Q865.97 945.33 865.97 944.53L865.97 937.53Z"/></g><circle cx="867.0" cy="931.4" r="0.9" fill="#fff"/>
<text x="880.0" y="940.6" textLength="43.7" lengthAdjust="spacingAndGlyphs">fue_id</text>
<text x="1104.2" y="940.6" textLength="57.9" lengthAdjust="spacingAndGlyphs">int8[19]</text>
<text x="880.0" y="970.0" textLength="86.4" lengthAdjust="spacingAndGlyphs">fue_nombre</text>
<text x="1104.2" y="970.0" textLength="158.6" lengthAdjust="spacingAndGlyphs">varchar[2147483647]</text>
<text x="880.0" y="999.3" textLength="88.8" lengthAdjust="spacingAndGlyphs">fue_ult_mod</text>
<text x="1104.2" y="999.3" textLength="121.8" lengthAdjust="spacingAndGlyphs">timestamp[29,6]</text>
<text x="880.0" y="1028.6" textLength="110.3" lengthAdjust="spacingAndGlyphs">fue_ult_usuario</text>
<text x="1104.2" y="1028.6" textLength="158.6" lengthAdjust="spacingAndGlyphs">varchar[2147483647]</text>
<text x="880.0" y="1058.0" textLength="83.6" lengthAdjust="spacingAndGlyphs">fue_version</text>
<text x="1104.2" y="1058.0" textLength="57.9" lengthAdjust="spacingAndGlyphs">int8[19]</text>
<text x="880.0" y="1087.3" textLength="78.6" lengthAdjust="spacingAndGlyphs">fue_codigo</text>
<text x="1104.2" y="1087.3" textLength="158.6" lengthAdjust="spacingAndGlyphs">varchar[2147483647]</text>
<text x="880.0" y="1116.6" textLength="72.4" lengthAdjust="spacingAndGlyphs">fue_orden</text>
<text x="1104.2" y="1116.6" textLength="57.9" lengthAdjust="spacingAndGlyphs">int8[19]</text>
<text x="880.0" y="1145.9" textLength="102.5" lengthAdjust="spacingAndGlyphs">fue_habilitado</text>
<text x="1104.2" y="1145.9" textLength="51.5" lengthAdjust="spacingAndGlyphs">bool[1]</text>
<g fill="#bdbdbd" stroke="none"><circle cx="867.0" cy="1167.0" r="3.05"/><path d="M864.92 1169.07L869.12 1169.07L868.07 1172.17L868.07 1173.17h0.6v1h-0.6v1.3h0.6v1h-0.6v1.4h0.9v1.2h-0.9L868.07 1179.17Q868.07 1179.97 867.02 1179.97Q865.97 1179.97 865.97 1179.17L865.97 1172.17Z"/></g><circle cx="867.0" cy="1166.1" r="0.9" fill="#fff"/>
<text x="880.0" y="1175.3" textLength="138.6" lengthAdjust="spacingAndGlyphs">fue_financiamiento</text>
<text x="1104.2" y="1175.3" textLength="57.9" lengthAdjust="spacingAndGlyphs">int8[19]</text>
<text x="880.0" y="1204.6" textLength="165.0" lengthAdjust="spacingAndGlyphs">fue_nombre_busqueda</text>
<text x="1104.2" y="1204.6" textLength="158.6" lengthAdjust="spacingAndGlyphs">varchar[2147483647]</text>
<text x="856.9" y="1231.3" textLength="26.0" lengthAdjust="spacingAndGlyphs">&lt; 1</text>
<text x="1035.9" y="1231.3" textLength="47.8" lengthAdjust="spacingAndGlyphs">0 rows</text>
<text x="1235.5" y="1231.3" textLength="26.0" lengthAdjust="spacingAndGlyphs">8 &gt;</text>
<text x="14.7" y="2102.9" textLength="189.2" lengthAdjust="spacingAndGlyphs">Generated by SchemaSpy</text>
</svg>
</body></html>
